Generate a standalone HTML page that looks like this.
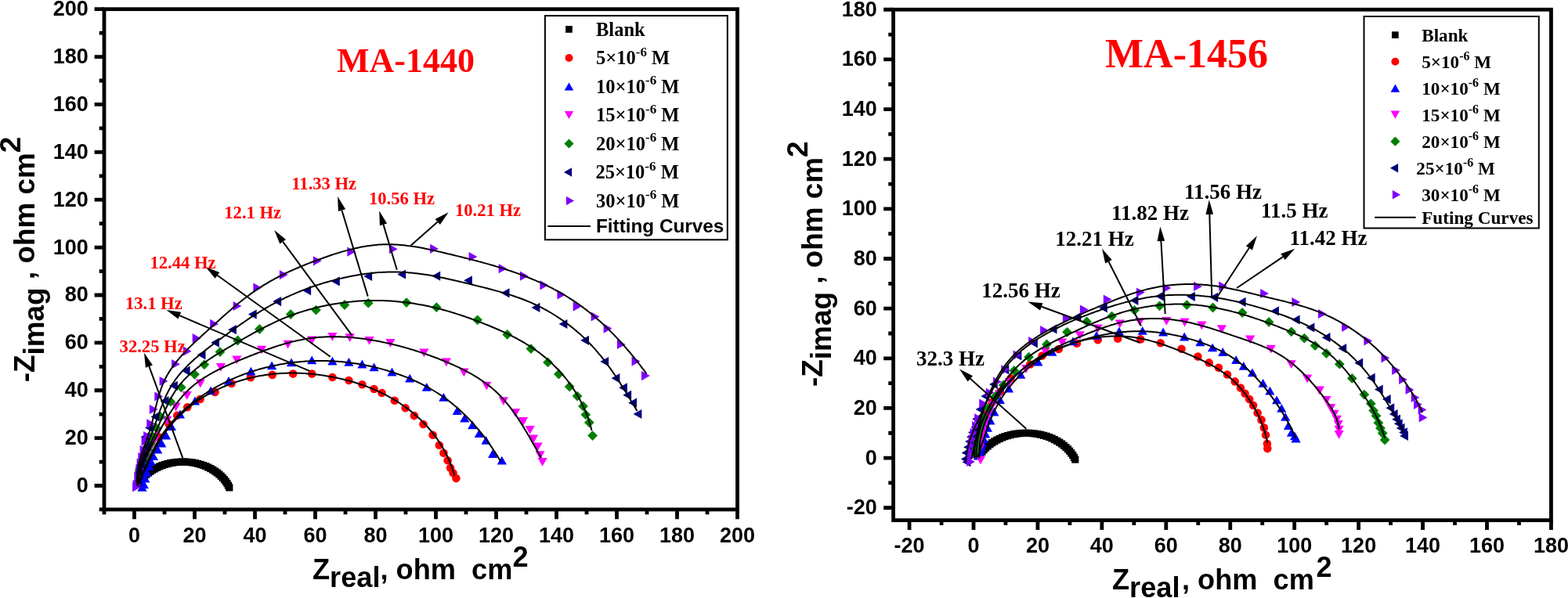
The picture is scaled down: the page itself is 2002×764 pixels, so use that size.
<!DOCTYPE html>
<html><head><meta charset="utf-8"><title>Nyquist plots</title>
<style>html,body{margin:0;padding:0;background:#fff;}svg{display:block;}</style>
</head><body>
<svg width="2002" height="764" viewBox="0 0 2002 764">
<rect width="2002" height="764" fill="#fff"/>
<rect x="133.00" y="11.70" width="808.50" height="639.24" fill="none" stroke="#000" stroke-width="4.8"/>
<path d="M171.50,650.94v12.40 M248.50,650.94v12.40 M325.50,650.94v12.40 M402.50,650.94v12.40 M479.50,650.94v12.40 M556.50,650.94v12.40 M633.50,650.94v12.40 M710.50,650.94v12.40 M787.50,650.94v12.40 M864.50,650.94v12.40 M941.50,650.94v12.40 M133.00,650.94v6.30 M210.00,650.94v6.30 M287.00,650.94v6.30 M364.00,650.94v6.30 M441.00,650.94v6.30 M518.00,650.94v6.30 M595.00,650.94v6.30 M672.00,650.94v6.30 M749.00,650.94v6.30 M826.00,650.94v6.30 M903.00,650.94v6.30 M133.00,620.50h-12.40 M133.00,559.62h-12.40 M133.00,498.74h-12.40 M133.00,437.86h-12.40 M133.00,376.98h-12.40 M133.00,316.10h-12.40 M133.00,255.22h-12.40 M133.00,194.34h-12.40 M133.00,133.46h-12.40 M133.00,72.58h-12.40 M133.00,11.70h-12.40 M133.00,650.94h-6.30 M133.00,590.06h-6.30 M133.00,529.18h-6.30 M133.00,468.30h-6.30 M133.00,407.42h-6.30 M133.00,346.54h-6.30 M133.00,285.66h-6.30 M133.00,224.78h-6.30 M133.00,163.90h-6.30 M133.00,103.02h-6.30 M133.00,42.14h-6.30" stroke="#000" stroke-width="4.8" fill="none"/>
<g font-family="'Liberation Sans', Arial, sans-serif" font-weight="bold" font-size="27" fill="#000">
<text x="171.50" y="693.00" text-anchor="middle">0</text>
<text x="248.50" y="693.00" text-anchor="middle">20</text>
<text x="325.50" y="693.00" text-anchor="middle">40</text>
<text x="402.50" y="693.00" text-anchor="middle">60</text>
<text x="479.50" y="693.00" text-anchor="middle">80</text>
<text x="556.50" y="693.00" text-anchor="middle">100</text>
<text x="633.50" y="693.00" text-anchor="middle">120</text>
<text x="710.50" y="693.00" text-anchor="middle">140</text>
<text x="787.50" y="693.00" text-anchor="middle">160</text>
<text x="864.50" y="693.00" text-anchor="middle">180</text>
<text x="941.50" y="693.00" text-anchor="middle">200</text>
<text x="112.80" y="629.00" text-anchor="end">0</text>
<text x="112.80" y="568.12" text-anchor="end">20</text>
<text x="112.80" y="507.25" text-anchor="end">40</text>
<text x="112.80" y="446.37" text-anchor="end">60</text>
<text x="112.80" y="385.49" text-anchor="end">80</text>
<text x="112.80" y="324.61" text-anchor="end">100</text>
<text x="112.80" y="263.72" text-anchor="end">120</text>
<text x="112.80" y="202.84" text-anchor="end">140</text>
<text x="112.80" y="141.96" text-anchor="end">160</text>
<text x="112.80" y="81.09" text-anchor="end">180</text>
<text x="112.80" y="20.21" text-anchor="end">200</text>
</g>
<rect x="1140.58" y="12.25" width="839.88" height="652.41" fill="none" stroke="#000" stroke-width="4.8"/>
<path d="M1161.06,664.66v12.40 M1243.00,664.66v12.40 M1324.94,664.66v12.40 M1406.88,664.66v12.40 M1488.82,664.66v12.40 M1570.76,664.66v12.40 M1652.70,664.66v12.40 M1734.64,664.66v12.40 M1816.58,664.66v12.40 M1898.52,664.66v12.40 M1980.46,664.66v12.40 M1202.03,664.66v6.30 M1283.97,664.66v6.30 M1365.91,664.66v6.30 M1447.85,664.66v6.30 M1529.79,664.66v6.30 M1611.73,664.66v6.30 M1693.67,664.66v6.30 M1775.61,664.66v6.30 M1857.55,664.66v6.30 M1939.49,664.66v6.30 M1140.58,648.75h-12.40 M1140.58,585.10h-12.40 M1140.58,521.45h-12.40 M1140.58,457.80h-12.40 M1140.58,394.15h-12.40 M1140.58,330.50h-12.40 M1140.58,266.85h-12.40 M1140.58,203.20h-12.40 M1140.58,139.55h-12.40 M1140.58,75.90h-12.40 M1140.58,12.25h-12.40 M1140.58,616.93h-6.30 M1140.58,553.27h-6.30 M1140.58,489.62h-6.30 M1140.58,425.98h-6.30 M1140.58,362.33h-6.30 M1140.58,298.68h-6.30 M1140.58,235.03h-6.30 M1140.58,171.38h-6.30 M1140.58,107.73h-6.30 M1140.58,44.08h-6.30" stroke="#000" stroke-width="4.8" fill="none"/>
<g font-family="'Liberation Sans', Arial, sans-serif" font-weight="bold" font-size="27" fill="#000">
<text x="1161.06" y="705.80" text-anchor="middle">-20</text>
<text x="1243.00" y="705.80" text-anchor="middle">0</text>
<text x="1324.94" y="705.80" text-anchor="middle">20</text>
<text x="1406.88" y="705.80" text-anchor="middle">40</text>
<text x="1488.82" y="705.80" text-anchor="middle">60</text>
<text x="1570.76" y="705.80" text-anchor="middle">80</text>
<text x="1652.70" y="705.80" text-anchor="middle">100</text>
<text x="1734.64" y="705.80" text-anchor="middle">120</text>
<text x="1816.58" y="705.80" text-anchor="middle">140</text>
<text x="1898.52" y="705.80" text-anchor="middle">160</text>
<text x="1980.46" y="705.80" text-anchor="middle">180</text>
<text x="1119.80" y="657.25" text-anchor="end">-20</text>
<text x="1119.80" y="593.61" text-anchor="end">0</text>
<text x="1119.80" y="529.96" text-anchor="end">20</text>
<text x="1119.80" y="466.31" text-anchor="end">40</text>
<text x="1119.80" y="402.65" text-anchor="end">60</text>
<text x="1119.80" y="339.00" text-anchor="end">80</text>
<text x="1119.80" y="275.36" text-anchor="end">100</text>
<text x="1119.80" y="211.70" text-anchor="end">120</text>
<text x="1119.80" y="148.06" text-anchor="end">140</text>
<text x="1119.80" y="84.40" text-anchor="end">160</text>
<text x="1119.80" y="20.76" text-anchor="end">180</text>
</g>
<text x="399" y="740.4" font-family="'Liberation Sans', Arial, sans-serif" font-weight="bold" font-size="36.2" fill="#000" xml:space="preserve">Z<tspan dy="10" >real</tspan><tspan dy="-10" dx="0">, ohm  cm</tspan><tspan dy="-16" dx="0">2</tspan></text>
<text x="1420" y="753.1" font-family="'Liberation Sans', Arial, sans-serif" font-weight="bold" font-size="36.2" fill="#000" xml:space="preserve">Z<tspan dy="10" >real</tspan><tspan dy="-10" dx="2.5">, ohm  cm</tspan><tspan dy="-16" dx="2.5">2</tspan></text>
<text transform="translate(44,488.3) rotate(-90)" font-family="'Liberation Sans', Arial, sans-serif" font-weight="bold" font-size="36.9" fill="#000" xml:space="preserve">-Z<tspan dy="11.5">imag</tspan><tspan dy="-11.5"> , ohm cm</tspan><tspan dy="-18.3">2</tspan></text>
<text transform="translate(1049.7,494.0) rotate(-90)" font-family="'Liberation Sans', Arial, sans-serif" font-weight="bold" font-size="36.9" fill="#000" xml:space="preserve">-Z<tspan dy="11.5">imag</tspan><tspan dy="-11.5"> , ohm cm</tspan><tspan dy="-18.3">2</tspan></text>
<text x="430" y="92" font-family="'Liberation Serif', 'Times New Roman', serif" font-weight="bold" font-size="44" fill="#ff0000">MA-1440</text>
<text x="1411" y="86" font-family="'Liberation Serif', 'Times New Roman', serif" font-weight="bold" font-size="52" fill="#ff0000">MA-1456</text>
<rect x="172.2" y="613.5" width="9.2" height="9.2" fill="#000"/>
<rect x="173.8" y="610.9" width="9.2" height="9.2" fill="#000"/>
<rect x="175.7" y="608.5" width="9.2" height="9.2" fill="#000"/>
<rect x="177.7" y="606.2" width="9.2" height="9.2" fill="#000"/>
<rect x="179.9" y="603.9" width="9.2" height="9.2" fill="#000"/>
<rect x="182.2" y="601.7" width="9.2" height="9.2" fill="#000"/>
<rect x="184.7" y="599.7" width="9.2" height="9.2" fill="#000"/>
<rect x="187.4" y="597.8" width="9.2" height="9.2" fill="#000"/>
<rect x="190.2" y="595.9" width="9.2" height="9.2" fill="#000"/>
<rect x="193.1" y="594.3" width="9.2" height="9.2" fill="#000"/>
<rect x="196.1" y="592.7" width="9.2" height="9.2" fill="#000"/>
<rect x="199.2" y="591.3" width="9.2" height="9.2" fill="#000"/>
<rect x="202.5" y="590.0" width="9.2" height="9.2" fill="#000"/>
<rect x="205.8" y="588.9" width="9.2" height="9.2" fill="#000"/>
<rect x="209.2" y="588.0" width="9.2" height="9.2" fill="#000"/>
<rect x="212.6" y="587.1" width="9.2" height="9.2" fill="#000"/>
<rect x="216.1" y="586.5" width="9.2" height="9.2" fill="#000"/>
<rect x="219.7" y="586.0" width="9.2" height="9.2" fill="#000"/>
<rect x="223.2" y="585.7" width="9.2" height="9.2" fill="#000"/>
<rect x="226.8" y="585.5" width="9.2" height="9.2" fill="#000"/>
<rect x="230.4" y="585.5" width="9.2" height="9.2" fill="#000"/>
<rect x="234.0" y="585.6" width="9.2" height="9.2" fill="#000"/>
<rect x="237.6" y="585.9" width="9.2" height="9.2" fill="#000"/>
<rect x="241.1" y="586.4" width="9.2" height="9.2" fill="#000"/>
<rect x="244.7" y="587.0" width="9.2" height="9.2" fill="#000"/>
<rect x="248.1" y="587.8" width="9.2" height="9.2" fill="#000"/>
<rect x="251.5" y="588.8" width="9.2" height="9.2" fill="#000"/>
<rect x="254.8" y="589.9" width="9.2" height="9.2" fill="#000"/>
<rect x="258.1" y="591.1" width="9.2" height="9.2" fill="#000"/>
<rect x="261.2" y="592.5" width="9.2" height="9.2" fill="#000"/>
<rect x="264.3" y="594.0" width="9.2" height="9.2" fill="#000"/>
<rect x="267.2" y="595.7" width="9.2" height="9.2" fill="#000"/>
<rect x="270.0" y="597.5" width="9.2" height="9.2" fill="#000"/>
<rect x="272.6" y="599.4" width="9.2" height="9.2" fill="#000"/>
<rect x="275.2" y="601.4" width="9.2" height="9.2" fill="#000"/>
<rect x="277.5" y="603.6" width="9.2" height="9.2" fill="#000"/>
<rect x="279.8" y="605.8" width="9.2" height="9.2" fill="#000"/>
<rect x="281.8" y="608.2" width="9.2" height="9.2" fill="#000"/>
<rect x="283.7" y="610.6" width="9.2" height="9.2" fill="#000"/>
<rect x="285.4" y="613.1" width="9.2" height="9.2" fill="#000"/>
<rect x="286.9" y="615.7" width="9.2" height="9.2" fill="#000"/>
<rect x="288.2" y="618.3" width="9.2" height="9.2" fill="#000"/>
<circle cx="202.7" cy="558.3" r="5.3" fill="#ff0000"/>
<circle cx="215.6" cy="541.8" r="5.3" fill="#ff0000"/>
<circle cx="226.2" cy="530.7" r="5.3" fill="#ff0000"/>
<circle cx="239.3" cy="520.2" r="5.3" fill="#ff0000"/>
<circle cx="255.5" cy="510.0" r="5.3" fill="#ff0000"/>
<circle cx="274.6" cy="501.0" r="5.3" fill="#ff0000"/>
<circle cx="295.6" cy="490.0" r="5.3" fill="#ff0000"/>
<circle cx="320.0" cy="482.3" r="5.3" fill="#ff0000"/>
<circle cx="347.7" cy="478.9" r="5.3" fill="#ff0000"/>
<circle cx="374.1" cy="477.6" r="5.3" fill="#ff0000"/>
<circle cx="398.2" cy="477.6" r="5.3" fill="#ff0000"/>
<circle cx="424.4" cy="482.0" r="5.3" fill="#ff0000"/>
<circle cx="445.4" cy="486.0" r="5.3" fill="#ff0000"/>
<circle cx="462.4" cy="491.2" r="5.3" fill="#ff0000"/>
<circle cx="477.6" cy="497.0" r="5.3" fill="#ff0000"/>
<circle cx="487.5" cy="502.0" r="5.3" fill="#ff0000"/>
<circle cx="503.8" cy="511.7" r="5.3" fill="#ff0000"/>
<circle cx="517.6" cy="521.2" r="5.3" fill="#ff0000"/>
<circle cx="528.8" cy="531.1" r="5.3" fill="#ff0000"/>
<circle cx="540.5" cy="542.0" r="5.3" fill="#ff0000"/>
<circle cx="552.6" cy="555.8" r="5.3" fill="#ff0000"/>
<circle cx="560.8" cy="568.7" r="5.3" fill="#ff0000"/>
<circle cx="566.4" cy="578.7" r="5.3" fill="#ff0000"/>
<circle cx="571.6" cy="588.2" r="5.3" fill="#ff0000"/>
<circle cx="575.1" cy="597.7" r="5.3" fill="#ff0000"/>
<circle cx="578.5" cy="604.2" r="5.3" fill="#ff0000"/>
<circle cx="582.4" cy="611.1" r="5.3" fill="#ff0000"/>
<path d="M181.5,616.9L187.6,627.7L175.4,627.7Z" fill="#0000ff"/>
<path d="M183.8,613.4L189.9,624.2L177.7,624.2Z" fill="#0000ff"/>
<path d="M185.3,605.6L191.4,616.4L179.2,616.4Z" fill="#0000ff"/>
<path d="M187.4,598.1L193.5,608.9L181.3,608.9Z" fill="#0000ff"/>
<path d="M190.2,590.1L196.3,600.9L184.1,600.9Z" fill="#0000ff"/>
<path d="M192.8,584.1L198.9,594.9L186.7,594.9Z" fill="#0000ff"/>
<path d="M195.9,577.3L202.0,588.1L189.8,588.1Z" fill="#0000ff"/>
<path d="M201.2,568.6L207.3,579.4L195.1,579.4Z" fill="#0000ff"/>
<path d="M206.2,560.6L212.3,571.4L200.1,571.4Z" fill="#0000ff"/>
<path d="M212.0,550.6L218.1,561.4L205.9,561.4Z" fill="#0000ff"/>
<path d="M218.9,539.2L225.0,550.0L212.8,550.0Z" fill="#0000ff"/>
<path d="M229.9,523.6L236.0,534.4L223.8,534.4Z" fill="#0000ff"/>
<path d="M249.0,506.6L255.1,517.4L242.9,517.4Z" fill="#0000ff"/>
<path d="M269.1,493.4L275.2,504.2L263.0,504.2Z" fill="#0000ff"/>
<path d="M292.0,480.9L298.1,491.7L285.9,491.7Z" fill="#0000ff"/>
<path d="M320.4,468.8L326.5,479.6L314.3,479.6Z" fill="#0000ff"/>
<path d="M347.1,461.4L353.2,472.2L341.0,472.2Z" fill="#0000ff"/>
<path d="M372.0,457.5L378.1,468.3L365.9,468.3Z" fill="#0000ff"/>
<path d="M398.2,454.4L404.3,465.2L392.1,465.2Z" fill="#0000ff"/>
<path d="M424.4,455.7L430.5,466.5L418.3,466.5Z" fill="#0000ff"/>
<path d="M445.4,457.0L451.5,467.8L439.3,467.8Z" fill="#0000ff"/>
<path d="M462.4,459.6L468.5,470.4L456.3,470.4Z" fill="#0000ff"/>
<path d="M477.6,463.5L483.7,474.3L471.5,474.3Z" fill="#0000ff"/>
<path d="M500.5,469.6L506.6,480.4L494.4,480.4Z" fill="#0000ff"/>
<path d="M523.2,477.8L529.3,488.6L517.1,488.6Z" fill="#0000ff"/>
<path d="M544.8,489.0L550.9,499.8L538.7,499.8Z" fill="#0000ff"/>
<path d="M566.4,502.0L572.5,512.8L560.3,512.8Z" fill="#0000ff"/>
<path d="M583.7,519.3L589.8,530.1L577.6,530.1Z" fill="#0000ff"/>
<path d="M593.2,528.8L599.3,539.6L587.1,539.6Z" fill="#0000ff"/>
<path d="M603.2,537.4L609.3,548.2L597.1,548.2Z" fill="#0000ff"/>
<path d="M611.8,548.2L617.9,559.0L605.7,559.0Z" fill="#0000ff"/>
<path d="M620.5,556.9L626.6,567.7L614.4,567.7Z" fill="#0000ff"/>
<path d="M629.1,574.1L635.2,584.9L623.0,584.9Z" fill="#0000ff"/>
<path d="M640.8,582.8L646.9,593.6L634.7,593.6Z" fill="#0000ff"/>
<path d="M182.1,599.8L188.2,589.0L176.0,589.0Z" fill="#ff00ff"/>
<path d="M182.8,597.9L188.9,587.1L176.7,587.1Z" fill="#ff00ff"/>
<path d="M183.7,595.6L189.8,584.8L177.6,584.8Z" fill="#ff00ff"/>
<path d="M184.9,592.8L191.0,582.0L178.8,582.0Z" fill="#ff00ff"/>
<path d="M186.3,589.4L192.4,578.6L180.2,578.6Z" fill="#ff00ff"/>
<path d="M188.2,585.2L194.3,574.4L182.1,574.4Z" fill="#ff00ff"/>
<path d="M190.6,580.3L196.7,569.5L184.5,569.5Z" fill="#ff00ff"/>
<path d="M193.7,574.3L199.8,563.5L187.6,563.5Z" fill="#ff00ff"/>
<path d="M197.6,567.1L203.7,556.3L191.5,556.3Z" fill="#ff00ff"/>
<path d="M201.5,556.7L207.6,545.9L195.4,545.9Z" fill="#ff00ff"/>
<path d="M213.3,542.5L219.4,531.7L207.2,531.7Z" fill="#ff00ff"/>
<path d="M224.6,525.4L230.7,514.6L218.5,514.6Z" fill="#ff00ff"/>
<path d="M238.7,510.8L244.8,500.0L232.6,500.0Z" fill="#ff00ff"/>
<path d="M255.8,495.4L261.9,484.6L249.7,484.6Z" fill="#ff00ff"/>
<path d="M281.9,474.8L288.0,464.0L275.8,464.0Z" fill="#ff00ff"/>
<path d="M302.3,465.2L308.4,454.4L296.2,454.4Z" fill="#ff00ff"/>
<path d="M334.0,452.6L340.1,441.8L327.9,441.8Z" fill="#ff00ff"/>
<path d="M367.6,445.5L373.7,434.7L361.5,434.7Z" fill="#ff00ff"/>
<path d="M398.2,440.3L404.3,429.5L392.1,429.5Z" fill="#ff00ff"/>
<path d="M424.4,435.8L430.5,425.0L418.3,425.0Z" fill="#ff00ff"/>
<path d="M446.7,437.1L452.8,426.3L440.6,426.3Z" fill="#ff00ff"/>
<path d="M471.6,440.8L477.7,430.0L465.5,430.0Z" fill="#ff00ff"/>
<path d="M498.4,443.9L504.5,433.1L492.3,433.1Z" fill="#ff00ff"/>
<path d="M541.4,456.2L547.5,445.4L535.3,445.4Z" fill="#ff00ff"/>
<path d="M569.9,468.3L576.0,457.5L563.8,457.5Z" fill="#ff00ff"/>
<path d="M592.4,481.2L598.5,470.4L586.3,470.4Z" fill="#ff00ff"/>
<path d="M621.3,498.5L627.4,487.7L615.2,487.7Z" fill="#ff00ff"/>
<path d="M642.9,518.0L649.0,507.2L636.8,507.2Z" fill="#ff00ff"/>
<path d="M658.0,533.1L664.1,522.3L651.9,522.3Z" fill="#ff00ff"/>
<path d="M668.0,543.9L674.1,533.1L661.9,533.1Z" fill="#ff00ff"/>
<path d="M676.6,554.7L682.7,543.9L670.5,543.9Z" fill="#ff00ff"/>
<path d="M681.0,566.4L687.1,555.6L674.9,555.6Z" fill="#ff00ff"/>
<path d="M686.6,576.3L692.7,565.5L680.5,565.5Z" fill="#ff00ff"/>
<path d="M689.6,587.1L695.7,576.3L683.5,576.3Z" fill="#ff00ff"/>
<path d="M692.6,595.7L698.7,584.9L686.5,584.9Z" fill="#ff00ff"/>
<path d="M178.6,594.2L185.0,600.6L178.6,607.0L172.2,600.6Z" fill="#008000"/>
<path d="M179.1,592.2L185.5,598.6L179.1,605.0L172.7,598.6Z" fill="#008000"/>
<path d="M179.9,589.8L186.3,596.2L179.9,602.6L173.5,596.2Z" fill="#008000"/>
<path d="M180.8,586.9L187.2,593.3L180.8,599.7L174.4,593.3Z" fill="#008000"/>
<path d="M182.1,583.5L188.5,589.9L182.1,596.3L175.7,589.9Z" fill="#008000"/>
<path d="M183.7,579.2L190.1,585.6L183.7,592.0L177.3,585.6Z" fill="#008000"/>
<path d="M185.8,574.2L192.2,580.6L185.8,587.0L179.4,580.6Z" fill="#008000"/>
<path d="M188.6,568.0L195.0,574.4L188.6,580.8L182.2,574.4Z" fill="#008000"/>
<path d="M192.1,560.6L198.5,567.0L192.1,573.4L185.7,567.0Z" fill="#008000"/>
<path d="M194.4,550.8L200.8,557.2L194.4,563.6L188.0,557.2Z" fill="#008000"/>
<path d="M199.2,540.2L205.6,546.6L199.2,553.0L192.8,546.6Z" fill="#008000"/>
<path d="M205.0,526.0L211.4,532.4L205.0,538.8L198.6,532.4Z" fill="#008000"/>
<path d="M217.8,506.8L224.2,513.2L217.8,519.6L211.4,513.2Z" fill="#008000"/>
<path d="M231.3,488.5L237.7,494.9L231.3,501.3L224.9,494.9Z" fill="#008000"/>
<path d="M248.5,471.9L254.9,478.3L248.5,484.7L242.1,478.3Z" fill="#008000"/>
<path d="M260.8,459.4L267.2,465.8L260.8,472.2L254.4,465.8Z" fill="#008000"/>
<path d="M281.0,443.2L287.4,449.6L281.0,456.0L274.6,449.6Z" fill="#008000"/>
<path d="M303.5,428.6L309.9,435.0L303.5,441.4L297.1,435.0Z" fill="#008000"/>
<path d="M331.4,414.1L337.8,420.5L331.4,426.9L325.0,420.5Z" fill="#008000"/>
<path d="M371.2,395.2L377.6,401.6L371.2,408.0L364.8,401.6Z" fill="#008000"/>
<path d="M403.5,389.7L409.9,396.1L403.5,402.5L397.1,396.1Z" fill="#008000"/>
<path d="M440.0,383.1L446.4,389.5L440.0,395.9L433.6,389.5Z" fill="#008000"/>
<path d="M470.3,380.8L476.7,387.2L470.3,393.6L463.9,387.2Z" fill="#008000"/>
<path d="M519.0,380.2L525.4,386.6L519.0,393.0L512.6,386.6Z" fill="#008000"/>
<path d="M557.3,386.3L563.7,392.7L557.3,399.1L550.9,392.7Z" fill="#008000"/>
<path d="M609.6,402.4L616.0,408.8L609.6,415.2L603.2,408.8Z" fill="#008000"/>
<path d="M647.7,421.0L654.1,427.4L647.7,433.8L641.3,427.4Z" fill="#008000"/>
<path d="M677.9,439.2L684.3,445.6L677.9,452.0L671.5,445.6Z" fill="#008000"/>
<path d="M699.5,456.5L705.9,462.9L699.5,469.3L693.1,462.9Z" fill="#008000"/>
<path d="M713.4,471.6L719.8,478.0L713.4,484.4L707.0,478.0Z" fill="#008000"/>
<path d="M727.2,487.6L733.6,494.0L727.2,500.4L720.8,494.0Z" fill="#008000"/>
<path d="M737.1,499.7L743.5,506.1L737.1,512.5L730.7,506.1Z" fill="#008000"/>
<path d="M744.5,512.6L750.9,519.0L744.5,525.4L738.1,519.0Z" fill="#008000"/>
<path d="M747.9,523.4L754.3,529.8L747.9,536.2L741.5,529.8Z" fill="#008000"/>
<path d="M752.3,533.4L758.7,539.8L752.3,546.2L745.9,539.8Z" fill="#008000"/>
<path d="M756.6,550.2L763.0,556.6L756.6,563.0L750.2,556.6Z" fill="#008000"/>
<path d="M171.0,604.9L181.8,598.8L181.8,611.0Z" fill="#000080"/>
<path d="M171.4,602.9L182.2,596.8L182.2,609.0Z" fill="#000080"/>
<path d="M171.8,600.5L182.6,594.4L182.6,606.6Z" fill="#000080"/>
<path d="M172.5,597.5L183.3,591.4L183.3,603.6Z" fill="#000080"/>
<path d="M173.4,593.9L184.2,587.8L184.2,600.0Z" fill="#000080"/>
<path d="M174.7,589.6L185.5,583.5L185.5,595.7Z" fill="#000080"/>
<path d="M176.4,584.3L187.2,578.2L187.2,590.4Z" fill="#000080"/>
<path d="M178.7,578.0L189.5,571.9L189.5,584.1Z" fill="#000080"/>
<path d="M181.7,570.4L192.5,564.3L192.5,576.5Z" fill="#000080"/>
<path d="M179.6,558.3L190.4,552.2L190.4,564.4Z" fill="#000080"/>
<path d="M184.9,546.6L195.7,540.5L195.7,552.7Z" fill="#000080"/>
<path d="M192.6,532.4L203.4,526.3L203.4,538.5Z" fill="#000080"/>
<path d="M204.6,512.2L215.4,506.1L215.4,518.3Z" fill="#000080"/>
<path d="M216.1,492.8L226.9,486.7L226.9,498.9Z" fill="#000080"/>
<path d="M231.8,473.8L242.6,467.7L242.6,479.9Z" fill="#000080"/>
<path d="M251.7,453.3L262.5,447.2L262.5,459.4Z" fill="#000080"/>
<path d="M269.2,437.7L280.0,431.6L280.0,443.8Z" fill="#000080"/>
<path d="M291.1,421.2L301.9,415.1L301.9,427.3Z" fill="#000080"/>
<path d="M316.9,401.6L327.7,395.5L327.7,407.7Z" fill="#000080"/>
<path d="M348.3,385.1L359.1,379.0L359.1,391.2Z" fill="#000080"/>
<path d="M386.3,371.2L397.1,365.1L397.1,377.3Z" fill="#000080"/>
<path d="M423.0,359.4L433.8,353.3L433.8,365.5Z" fill="#000080"/>
<path d="M464.3,353.0L475.1,346.9L475.1,359.1Z" fill="#000080"/>
<path d="M507.3,350.5L518.1,344.4L518.1,356.6Z" fill="#000080"/>
<path d="M551.4,352.7L562.2,346.6L562.2,358.8Z" fill="#000080"/>
<path d="M592.1,358.3L602.9,352.2L602.9,364.4Z" fill="#000080"/>
<path d="M639.7,374.3L650.5,368.2L650.5,380.4Z" fill="#000080"/>
<path d="M678.6,392.9L689.4,386.8L689.4,399.0Z" fill="#000080"/>
<path d="M713.6,414.0L724.4,407.9L724.4,420.1Z" fill="#000080"/>
<path d="M741.2,434.8L752.0,428.7L752.0,440.9Z" fill="#000080"/>
<path d="M766.3,462.0L777.1,455.9L777.1,468.1Z" fill="#000080"/>
<path d="M780.6,483.2L791.4,477.1L791.4,489.3Z" fill="#000080"/>
<path d="M790.1,495.3L800.9,489.2L800.9,501.4Z" fill="#000080"/>
<path d="M795.3,504.8L806.1,498.7L806.1,510.9Z" fill="#000080"/>
<path d="M802.2,514.7L813.0,508.6L813.0,520.8Z" fill="#000080"/>
<path d="M808.6,529.0L819.4,522.9L819.4,535.1Z" fill="#000080"/>
<path d="M179.9,622.3L169.1,616.2L169.1,628.4Z" fill="#8000ff"/>
<path d="M180.4,619.0L169.6,612.9L169.6,625.1Z" fill="#8000ff"/>
<path d="M182.1,609.0L171.3,602.9L171.3,615.1Z" fill="#8000ff"/>
<path d="M184.3,599.0L173.5,592.9L173.5,605.1Z" fill="#8000ff"/>
<path d="M185.4,591.5L174.6,585.4L174.6,597.6Z" fill="#8000ff"/>
<path d="M187.1,584.0L176.3,577.9L176.3,590.1Z" fill="#8000ff"/>
<path d="M189.4,575.0L178.6,568.9L178.6,581.1Z" fill="#8000ff"/>
<path d="M191.4,564.0L180.6,557.9L180.6,570.1Z" fill="#8000ff"/>
<path d="M194.0,557.2L183.2,551.1L183.2,563.3Z" fill="#8000ff"/>
<path d="M198.1,541.3L187.3,535.2L187.3,547.4Z" fill="#8000ff"/>
<path d="M201.6,523.0L190.8,516.9L190.8,529.1Z" fill="#8000ff"/>
<path d="M208.1,506.5L197.3,500.4L197.3,512.6Z" fill="#8000ff"/>
<path d="M214.4,487.0L203.6,480.9L203.6,493.1Z" fill="#8000ff"/>
<path d="M229.9,465.2L219.1,459.1L219.1,471.3Z" fill="#8000ff"/>
<path d="M244.6,448.7L233.8,442.6L233.8,454.8Z" fill="#8000ff"/>
<path d="M256.5,432.2L245.7,426.1L245.7,438.3Z" fill="#8000ff"/>
<path d="M279.0,413.9L268.2,407.8L268.2,420.0Z" fill="#8000ff"/>
<path d="M308.4,391.0L297.6,384.9L297.6,397.1Z" fill="#8000ff"/>
<path d="M334.2,367.6L323.4,361.5L323.4,373.7Z" fill="#8000ff"/>
<path d="M367.7,351.1L356.9,345.0L356.9,357.2Z" fill="#8000ff"/>
<path d="M410.7,333.3L399.9,327.2L399.9,339.4Z" fill="#8000ff"/>
<path d="M454.2,321.6L443.4,315.5L443.4,327.7Z" fill="#8000ff"/>
<path d="M507.7,318.2L496.9,312.1L496.9,324.3Z" fill="#8000ff"/>
<path d="M559.9,317.8L549.1,311.7L549.1,323.9Z" fill="#8000ff"/>
<path d="M609.4,328.0L598.6,321.9L598.6,334.1Z" fill="#8000ff"/>
<path d="M647.4,343.2L636.6,337.1L636.6,349.3Z" fill="#8000ff"/>
<path d="M674.7,352.7L663.9,346.6L663.9,358.8Z" fill="#8000ff"/>
<path d="M700.2,364.3L689.4,358.2L689.4,370.4Z" fill="#8000ff"/>
<path d="M722.2,376.4L711.4,370.3L711.4,382.5Z" fill="#8000ff"/>
<path d="M742.5,391.6L731.7,385.5L731.7,397.7Z" fill="#8000ff"/>
<path d="M765.4,404.5L754.6,398.4L754.6,410.6Z" fill="#8000ff"/>
<path d="M781.4,419.6L770.6,413.5L770.6,425.7Z" fill="#8000ff"/>
<path d="M798.7,440.0L787.9,433.9L787.9,446.1Z" fill="#8000ff"/>
<path d="M817.3,461.6L806.5,455.5L806.5,467.7Z" fill="#8000ff"/>
<path d="M829.8,480.1L819.0,474.0L819.0,486.2Z" fill="#8000ff"/>
<g fill="none" stroke="#000" stroke-width="2" stroke-linejoin="round">
<path d="M175.5,620.3 176.3,618.7 177.1,617.1 177.9,615.5 178.6,613.9 179.4,612.3 180.2,610.6 180.9,609.0 181.7,607.4 182.4,605.8 183.2,604.2 183.9,602.6 184.7,601.0 185.4,599.4 186.2,597.8 186.9,596.2 187.7,594.6 188.4,593.0 189.1,591.4 189.9,589.8 190.7,588.3 191.4,586.7 192.2,585.1 192.9,583.6 193.7,582.0 194.5,580.4 195.3,578.9 196.1,577.3 196.9,575.8 197.7,574.3 198.5,572.8 199.3,571.2 200.1,569.7 201.0,568.2 201.8,566.8 202.7,565.3 203.6,563.8 204.5,562.3 205.4,560.9 206.3,559.4 207.2,558.0 208.2,556.6 209.1,555.2 210.1,553.8 211.1,552.4 212.1,551.0 213.1,549.6 214.2,548.3 215.2,546.9 216.3,545.6 217.3,544.3 218.4,542.9 219.5,541.6 220.6,540.3 221.8,539.1 222.9,537.8 224.1,536.5 225.2,535.3 226.4,534.1 227.6,532.8 228.8,531.6 230.1,530.4 231.3,529.2 232.5,528.0 233.8,526.9 235.1,525.7 236.4,524.6 237.7,523.5 239.0,522.3 240.3,521.2 241.6,520.1 243.0,519.1 244.3,518.0 245.7,517.0 247.1,515.9 248.5,514.9 249.9,513.9 251.3,512.9 252.8,511.9 254.2,510.9 255.7,509.9 257.2,509.0 258.6,508.0 260.1,507.1 261.6,506.2 263.1,505.3 264.7,504.4 266.2,503.6 267.8,502.7 269.3,501.9 270.9,501.0 272.4,500.2 274.0,499.4 275.6,498.6 277.2,497.8 278.8,497.1 280.4,496.3 282.1,495.6 283.7,494.9 285.3,494.2 287.0,493.5 288.6,492.8 290.3,492.1 291.9,491.5 293.6,490.8 295.3,490.2 297.0,489.6 298.7,489.0 300.4,488.4 302.1,487.8 303.8,487.3 305.5,486.7 307.2,486.2 308.9,485.7 310.6,485.2 312.3,484.7 314.1,484.2 315.8,483.8 317.5,483.3 319.2,482.9 321.0,482.5 322.7,482.1 324.5,481.7 326.2,481.3 327.9,481.0 329.7,480.6 331.4,480.3 333.2,480.0 334.9,479.7 336.7,479.4 338.4,479.1 340.2,478.9 341.9,478.6 343.7,478.4 345.4,478.2 347.2,478.0 348.9,477.8 350.7,477.6 352.4,477.5 354.1,477.3 355.9,477.2 357.6,477.1 359.4,477.0 361.1,476.9 362.9,476.8 364.6,476.7 366.4,476.7 368.1,476.6 369.9,476.6 371.6,476.6 373.4,476.6 375.1,476.6 376.9,476.6 378.6,476.6 380.4,476.7 382.1,476.7 383.9,476.8 385.6,476.9 387.4,477.0 389.1,477.1 390.9,477.2 392.6,477.4 394.4,477.5 396.1,477.6 397.8,477.8 399.6,478.0 401.3,478.2 403.1,478.4 404.8,478.6 406.6,478.8 408.3,479.0 410.1,479.3 411.8,479.5 413.6,479.8 415.3,480.1 417.0,480.4 418.8,480.6 420.5,481.0 422.3,481.3 424.0,481.6 425.7,481.9 427.5,482.3 429.2,482.6 431.0,483.0 432.7,483.4 434.4,483.8 436.1,484.2 437.9,484.6 439.6,485.0 441.3,485.4 443.0,485.9 444.8,486.3 446.5,486.8 448.2,487.3 449.9,487.8 451.6,488.3 453.3,488.8 455.0,489.3 456.7,489.9 458.4,490.4 460.1,491.0 461.8,491.5 463.4,492.1 465.1,492.7 466.8,493.3 468.4,493.9 470.1,494.6 471.8,495.2 473.4,495.9 475.1,496.5 476.7,497.2 478.3,497.9 480.0,498.6 481.6,499.3 483.2,500.1 484.8,500.8 486.4,501.6 488.0,502.4 489.6,503.1 491.2,503.9 492.7,504.7 494.3,505.6 495.9,506.4 497.4,507.3 499.0,508.1 500.5,509.0 502.0,509.9 503.5,510.8 505.1,511.7 506.6,512.6 508.0,513.6 509.5,514.5 511.0,515.5 512.5,516.5 513.9,517.5 515.4,518.5 516.8,519.5 518.2,520.5 519.7,521.6 521.1,522.7 522.5,523.7 523.9,524.8 525.2,525.9 526.6,527.0 528.0,528.1 529.3,529.3 530.6,530.4 531.9,531.6 533.3,532.8 534.6,533.9 535.8,535.1 537.1,536.3 538.4,537.6 539.6,538.8 540.8,540.1 542.1,541.3 543.3,542.6 544.5,543.9 545.7,545.2 546.8,546.5 548.0,547.8 549.1,549.1 550.2,550.5 551.4,551.8 552.4,553.2 553.5,554.6 554.6,555.9 555.7,557.3 556.7,558.8 557.7,560.2 558.7,561.6 559.7,563.1 560.7,564.5 561.6,566.0 562.6,567.5 563.5,569.0 564.4,570.5 565.3,572.0 566.2,573.5 567.1,575.0 567.9,576.6 568.7,578.1 569.5,579.7 570.3,581.3 571.1,582.9 571.9,584.5 572.6,586.1 573.3,587.7 574.0,589.4 574.7,591.0 575.4,592.7 576.0,594.3 576.6,596.0 577.2,597.7 577.8,599.4 578.4,601.1 578.9,602.8 579.5,604.5 580.0,606.3 580.5,608.0"/>
<path d="M175.5,620.3 176.2,618.5 177.0,616.7 177.7,615.0 178.5,613.2 179.2,611.4 180.0,609.6 180.7,607.8 181.5,606.0 182.2,604.2 183.0,602.4 183.7,600.6 184.5,598.8 185.3,597.0 186.1,595.2 186.8,593.4 187.6,591.6 188.4,589.8 189.2,588.0 190.1,586.2 190.9,584.4 191.7,582.6 192.6,580.9 193.4,579.1 194.3,577.3 195.2,575.6 196.1,573.9 197.0,572.1 197.9,570.4 198.8,568.7 199.8,567.0 200.8,565.3 201.8,563.6 202.8,561.9 203.8,560.3 204.9,558.6 205.9,557.0 207.0,555.4 208.1,553.8 209.2,552.2 210.4,550.6 211.6,549.0 212.7,547.5 213.9,545.9 215.2,544.4 216.4,542.9 217.7,541.4 218.9,539.9 220.2,538.5 221.5,537.0 222.8,535.6 224.2,534.1 225.5,532.7 226.9,531.3 228.3,530.0 229.7,528.6 231.1,527.2 232.5,525.9 234.0,524.6 235.4,523.2 236.9,521.9 238.4,520.7 239.8,519.4 241.3,518.1 242.9,516.9 244.4,515.6 245.9,514.4 247.5,513.2 249.0,512.0 250.6,510.9 252.2,509.7 253.8,508.6 255.4,507.4 257.0,506.3 258.6,505.2 260.2,504.1 261.8,503.0 263.5,502.0 265.1,500.9 266.8,499.9 268.4,498.9 270.1,497.9 271.8,496.9 273.5,495.9 275.2,494.9 276.9,494.0 278.6,493.1 280.3,492.1 282.0,491.2 283.8,490.3 285.5,489.4 287.3,488.6 289.0,487.7 290.8,486.9 292.5,486.1 294.3,485.2 296.1,484.4 297.9,483.7 299.7,482.9 301.5,482.1 303.3,481.4 305.1,480.7 306.9,479.9 308.7,479.2 310.5,478.5 312.4,477.9 314.2,477.2 316.0,476.6 317.9,475.9 319.7,475.3 321.6,474.7 323.4,474.1 325.3,473.5 327.2,472.9 329.0,472.4 330.9,471.8 332.8,471.3 334.7,470.8 336.6,470.3 338.4,469.8 340.3,469.3 342.2,468.9 344.1,468.4 346.0,468.0 347.9,467.6 349.8,467.1 351.8,466.7 353.7,466.4 355.6,466.0 357.5,465.6 359.4,465.3 361.4,465.0 363.3,464.6 365.2,464.3 367.1,464.0 369.1,463.8 371.0,463.5 372.9,463.3 374.9,463.0 376.8,462.8 378.8,462.6 380.7,462.4 382.6,462.2 384.6,462.0 386.5,461.9 388.5,461.7 390.4,461.6 392.4,461.5 394.3,461.4 396.3,461.3 398.2,461.2 400.2,461.1 402.1,461.1 404.1,461.0 406.0,461.0 408.0,461.0 409.9,461.0 411.9,461.0 413.8,461.0 415.8,461.0 417.7,461.1 419.7,461.2 421.6,461.2 423.6,461.3 425.5,461.4 427.5,461.5 429.4,461.7 431.4,461.8 433.3,462.0 435.3,462.1 437.2,462.3 439.2,462.5 441.1,462.7 443.0,462.9 445.0,463.2 446.9,463.4 448.8,463.7 450.8,463.9 452.7,464.2 454.6,464.5 456.6,464.8 458.5,465.1 460.4,465.4 462.3,465.8 464.2,466.1 466.2,466.5 468.1,466.9 470.0,467.3 471.9,467.7 473.8,468.1 475.7,468.5 477.6,469.0 479.5,469.4 481.4,469.9 483.3,470.4 485.2,470.9 487.1,471.4 488.9,471.9 490.8,472.4 492.7,473.0 494.6,473.5 496.4,474.1 498.3,474.7 500.2,475.3 502.0,475.9 503.9,476.5 505.7,477.1 507.6,477.7 509.4,478.4 511.2,479.0 513.1,479.7 514.9,480.4 516.7,481.1 518.5,481.8 520.3,482.5 522.1,483.3 523.9,484.0 525.7,484.8 527.5,485.6 529.3,486.4 531.1,487.2 532.8,488.0 534.6,488.8 536.4,489.7 538.1,490.6 539.8,491.4 541.6,492.3 543.3,493.2 545.0,494.2 546.7,495.1 548.4,496.0 550.1,497.0 551.8,498.0 553.5,499.0 555.1,500.0 556.8,501.0 558.5,502.0 560.1,503.1 561.7,504.2 563.4,505.2 565.0,506.3 566.6,507.5 568.2,508.6 569.7,509.7 571.3,510.9 572.9,512.1 574.4,513.3 576.0,514.5 577.5,515.7 579.0,517.0 580.5,518.2 582.0,519.5 583.5,520.8 585.0,522.1 586.5,523.4 587.9,524.7 589.3,526.1 590.8,527.4 592.2,528.8 593.6,530.2 595.0,531.5 596.4,532.9 597.8,534.4 599.1,535.8 600.5,537.2 601.8,538.6 603.1,540.1 604.4,541.5 605.7,543.0 607.0,544.5 608.3,545.9 609.6,547.4 610.8,548.9 612.0,550.4 613.3,551.9 614.5,553.4 615.7,554.9 616.9,556.4 618.0,557.9 619.2,559.5 620.3,561.0 621.5,562.5 622.6,564.0 623.7,565.6 624.8,567.1 625.9,568.6 626.9,570.2 628.0,571.7 629.0,573.2 630.0,574.8 631.1,576.3 632.1,577.8 633.0,579.4 634.0,580.9 635.0,582.4 635.9,584.0 636.8,585.5 637.7,587.0 638.6,588.5 639.5,590.0"/>
<path d="M175.5,620.3 175.8,618.0 176.2,615.8 176.6,613.6 177.1,611.4 177.5,609.2 178.1,607.0 178.7,604.9 179.3,602.7 179.9,600.6 180.6,598.5 181.3,596.5 182.0,594.4 182.8,592.4 183.6,590.3 184.5,588.3 185.3,586.3 186.2,584.3 187.1,582.3 188.0,580.3 188.9,578.3 189.9,576.4 190.9,574.4 191.9,572.4 192.9,570.5 193.9,568.5 194.9,566.6 196.0,564.6 197.0,562.7 198.1,560.7 199.2,558.8 200.2,556.8 201.3,554.9 202.4,552.9 203.5,551.0 204.6,549.0 205.6,547.0 206.7,545.1 207.8,543.1 209.0,541.2 210.1,539.2 211.2,537.3 212.4,535.4 213.5,533.4 214.7,531.5 215.9,529.6 217.0,527.7 218.3,525.9 219.5,524.0 220.7,522.2 222.0,520.3 223.2,518.5 224.5,516.7 225.9,514.9 227.2,513.2 228.5,511.5 229.9,509.7 231.3,508.1 232.7,506.4 234.2,504.8 235.7,503.1 237.2,501.6 238.7,500.0 240.3,498.5 241.8,497.0 243.4,495.5 245.1,494.1 246.7,492.7 248.4,491.3 250.2,490.0 251.9,488.7 253.7,487.4 255.4,486.1 257.2,484.9 259.1,483.6 260.9,482.4 262.8,481.3 264.7,480.1 266.6,479.0 268.5,477.9 270.4,476.8 272.4,475.7 274.4,474.6 276.4,473.6 278.3,472.6 280.4,471.6 282.4,470.6 284.4,469.6 286.5,468.6 288.5,467.7 290.6,466.8 292.7,465.8 294.7,464.9 296.8,464.0 298.9,463.1 301.0,462.2 303.1,461.3 305.2,460.5 307.3,459.6 309.5,458.7 311.6,457.9 313.7,457.0 315.8,456.2 317.9,455.3 320.0,454.5 322.2,453.7 324.3,452.8 326.4,452.0 328.5,451.2 330.6,450.4 332.8,449.6 334.9,448.8 337.0,448.0 339.1,447.2 341.2,446.5 343.4,445.7 345.5,445.0 347.6,444.2 349.8,443.5 351.9,442.8 354.0,442.1 356.2,441.4 358.3,440.8 360.5,440.1 362.6,439.5 364.8,438.9 366.9,438.3 369.1,437.7 371.2,437.1 373.4,436.6 375.5,436.1 377.7,435.6 379.9,435.1 382.0,434.6 384.2,434.2 386.4,433.7 388.6,433.3 390.8,433.0 392.9,432.6 395.1,432.3 397.3,432.0 399.5,431.7 401.7,431.4 403.9,431.2 406.1,431.0 408.3,430.8 410.6,430.7 412.8,430.5 415.0,430.4 417.2,430.3 419.4,430.2 421.7,430.2 423.9,430.2 426.1,430.1 428.3,430.2 430.6,430.2 432.8,430.2 435.0,430.3 437.3,430.4 439.5,430.5 441.7,430.6 444.0,430.8 446.2,430.9 448.4,431.1 450.6,431.3 452.9,431.5 455.1,431.8 457.3,432.0 459.5,432.3 461.8,432.5 464.0,432.8 466.2,433.1 468.4,433.5 470.6,433.8 472.8,434.2 475.0,434.5 477.2,434.9 479.4,435.3 481.6,435.7 483.8,436.1 486.0,436.5 488.2,437.0 490.4,437.4 492.5,437.9 494.7,438.4 496.9,438.8 499.0,439.3 501.2,439.9 503.4,440.4 505.5,440.9 507.7,441.5 509.8,442.0 512.0,442.6 514.1,443.2 516.2,443.8 518.4,444.4 520.5,445.0 522.6,445.6 524.8,446.2 526.9,446.9 529.0,447.5 531.1,448.2 533.2,448.9 535.4,449.6 537.5,450.3 539.6,451.0 541.7,451.7 543.8,452.4 545.9,453.2 548.0,453.9 550.1,454.7 552.2,455.5 554.3,456.2 556.4,457.0 558.5,457.8 560.5,458.6 562.6,459.5 564.7,460.3 566.8,461.1 568.9,462.0 570.9,462.8 573.0,463.7 575.1,464.6 577.1,465.5 579.2,466.4 581.2,467.3 583.3,468.3 585.3,469.2 587.3,470.2 589.3,471.2 591.3,472.2 593.3,473.2 595.3,474.2 597.3,475.3 599.2,476.3 601.2,477.4 603.1,478.5 605.0,479.6 606.9,480.8 608.8,481.9 610.7,483.1 612.5,484.3 614.4,485.5 616.2,486.8 618.0,488.1 619.8,489.3 621.6,490.7 623.3,492.0 625.1,493.4 626.8,494.7 628.5,496.2 630.2,497.6 631.8,499.0 633.4,500.5 635.0,502.1 636.6,503.6 638.2,505.2 639.7,506.8 641.2,508.4 642.7,510.0 644.2,511.7 645.6,513.4 647.1,515.1 648.5,516.8 649.9,518.5 651.3,520.3 652.6,522.1 654.0,523.9 655.3,525.7 656.6,527.5 657.9,529.4 659.2,531.2 660.4,533.1 661.7,535.0 662.9,536.9 664.1,538.8 665.3,540.7 666.5,542.6 667.7,544.5 668.9,546.4 670.1,548.4 671.2,550.3 672.4,552.3 673.5,554.2 674.7,556.1 675.8,558.1 676.9,560.0 678.0,562.0 679.1,563.9 680.2,565.9 681.3,567.8 682.4,569.8 683.5,571.7 684.6,573.6 685.6,575.5 686.7,577.4 687.8,579.3 688.9,581.2 689.9,583.1 691.0,585.0"/>
<path d="M175.5,620.3 175.6,617.7 175.8,615.1 176.1,612.6 176.5,610.0 177.0,607.5 177.5,605.0 178.1,602.6 178.7,600.1 179.4,597.7 180.2,595.3 181.0,592.9 181.8,590.5 182.7,588.2 183.6,585.8 184.6,583.5 185.6,581.1 186.6,578.8 187.7,576.5 188.7,574.1 189.8,571.8 190.9,569.5 192.0,567.2 193.1,564.9 194.2,562.6 195.2,560.3 196.3,557.9 197.4,555.6 198.4,553.3 199.4,550.9 200.4,548.6 201.4,546.3 202.4,543.9 203.4,541.6 204.4,539.2 205.4,536.9 206.3,534.5 207.3,532.2 208.3,529.9 209.3,527.5 210.3,525.2 211.3,522.9 212.4,520.6 213.4,518.4 214.5,516.1 215.6,513.9 216.7,511.6 217.9,509.4 219.1,507.3 220.4,505.1 221.6,503.0 223.0,500.8 224.3,498.8 225.7,496.7 227.2,494.7 228.7,492.7 230.3,490.7 231.9,488.8 233.6,486.9 235.3,485.0 237.1,483.2 238.9,481.4 240.8,479.6 242.7,477.8 244.6,476.1 246.6,474.4 248.6,472.7 250.6,471.0 252.7,469.4 254.8,467.8 256.9,466.2 259.1,464.6 261.3,463.1 263.5,461.6 265.7,460.0 267.9,458.5 270.2,457.1 272.4,455.6 274.7,454.2 277.0,452.7 279.3,451.3 281.6,449.9 283.9,448.5 286.2,447.2 288.5,445.8 290.8,444.4 293.1,443.1 295.4,441.8 297.7,440.4 299.9,439.1 302.2,437.8 304.4,436.5 306.7,435.2 308.9,433.9 311.1,432.7 313.3,431.4 315.6,430.1 317.8,428.9 320.0,427.7 322.2,426.4 324.4,425.2 326.6,424.0 328.8,422.8 331.0,421.7 333.2,420.5 335.4,419.4 337.6,418.2 339.8,417.1 342.0,416.0 344.2,414.9 346.4,413.8 348.6,412.8 350.9,411.7 353.1,410.7 355.3,409.7 357.6,408.7 359.9,407.7 362.1,406.7 364.4,405.8 366.7,404.9 369.0,404.0 371.4,403.1 373.7,402.2 376.1,401.4 378.4,400.5 380.8,399.7 383.2,398.9 385.6,398.2 388.0,397.4 390.5,396.7 392.9,396.0 395.4,395.3 397.8,394.6 400.3,394.0 402.8,393.3 405.3,392.7 407.8,392.1 410.3,391.6 412.8,391.0 415.3,390.5 417.8,390.0 420.4,389.5 422.9,389.0 425.5,388.6 428.0,388.2 430.6,387.8 433.1,387.4 435.7,387.0 438.2,386.7 440.8,386.3 443.3,386.0 445.9,385.7 448.5,385.5 451.0,385.2 453.6,385.0 456.2,384.8 458.7,384.6 461.3,384.5 463.8,384.3 466.4,384.2 468.9,384.1 471.5,384.1 474.0,384.0 476.6,384.0 479.1,384.0 481.7,384.0 484.2,384.0 486.8,384.1 489.3,384.1 491.9,384.2 494.4,384.3 496.9,384.5 499.5,384.6 502.0,384.8 504.5,385.0 507.1,385.2 509.6,385.4 512.1,385.7 514.6,385.9 517.2,386.2 519.7,386.6 522.2,386.9 524.7,387.2 527.2,387.6 529.7,388.0 532.3,388.4 534.8,388.9 537.3,389.3 539.8,389.8 542.3,390.3 544.8,390.8 547.3,391.3 549.8,391.9 552.2,392.4 554.7,393.0 557.2,393.6 559.7,394.2 562.2,394.9 564.7,395.5 567.1,396.2 569.6,396.9 572.1,397.6 574.5,398.3 577.0,399.1 579.4,399.8 581.9,400.6 584.3,401.4 586.8,402.1 589.2,403.0 591.7,403.8 594.1,404.6 596.5,405.5 599.0,406.3 601.4,407.2 603.8,408.1 606.2,409.0 608.6,409.9 611.0,410.8 613.4,411.7 615.8,412.6 618.2,413.6 620.6,414.6 623.0,415.5 625.4,416.5 627.7,417.5 630.1,418.5 632.5,419.5 634.8,420.5 637.2,421.5 639.5,422.6 641.8,423.7 644.2,424.7 646.5,425.8 648.8,426.9 651.1,428.1 653.3,429.2 655.6,430.4 657.9,431.5 660.1,432.7 662.3,434.0 664.6,435.2 666.8,436.5 669.0,437.7 671.1,439.0 673.3,440.4 675.4,441.7 677.6,443.1 679.7,444.5 681.8,445.9 683.9,447.3 685.9,448.8 688.0,450.3 690.0,451.8 692.0,453.4 694.0,455.0 696.0,456.6 697.9,458.2 699.8,459.9 701.8,461.6 703.6,463.3 705.5,465.1 707.3,466.9 709.2,468.7 710.9,470.5 712.7,472.3 714.5,474.2 716.2,476.1 717.9,478.1 719.5,480.0 721.2,482.0 722.8,484.0 724.4,486.0 725.9,488.1 727.4,490.1 728.9,492.2 730.4,494.3 731.9,496.5 733.3,498.6 734.6,500.8 736.0,503.0 737.3,505.2 738.6,507.4 739.8,509.6 741.0,511.9 742.2,514.2 743.4,516.5 744.5,518.8 745.5,521.1 746.6,523.4 747.6,525.8 748.6,528.1 749.5,530.5 750.4,532.9 751.2,535.3 752.0,537.7 752.8,540.2 753.5,542.6 754.2,545.1 754.9,547.5 755.5,550.0"/>
<path d="M175.5,620.3 175.4,617.4 175.5,614.6 175.6,611.7 175.9,608.9 176.2,606.1 176.7,603.4 177.2,600.7 177.8,597.9 178.4,595.2 179.2,592.6 179.9,589.9 180.8,587.2 181.7,584.6 182.6,582.0 183.6,579.4 184.6,576.7 185.6,574.1 186.6,571.5 187.7,568.9 188.7,566.3 189.8,563.7 190.9,561.1 191.9,558.5 192.9,555.9 194.0,553.3 195.0,550.6 195.9,548.0 196.9,545.4 197.9,542.7 198.8,540.1 199.7,537.4 200.7,534.8 201.6,532.1 202.5,529.5 203.5,526.9 204.4,524.2 205.4,521.6 206.4,519.0 207.4,516.4 208.4,513.9 209.5,511.3 210.6,508.8 211.8,506.2 212.9,503.7 214.2,501.3 215.4,498.8 216.8,496.4 218.1,494.0 219.6,491.6 221.1,489.3 222.6,487.0 224.3,484.7 226.0,482.4 227.7,480.2 229.5,478.0 231.3,475.9 233.2,473.8 235.2,471.7 237.2,469.6 239.2,467.5 241.2,465.5 243.3,463.5 245.5,461.5 247.6,459.6 249.8,457.6 252.1,455.7 254.3,453.8 256.6,451.9 258.9,450.1 261.2,448.2 263.5,446.4 265.8,444.6 268.1,442.8 270.5,441.1 272.8,439.3 275.2,437.6 277.5,435.8 279.8,434.1 282.2,432.4 284.5,430.7 286.8,429.0 289.1,427.4 291.4,425.7 293.7,424.0 296.0,422.4 298.2,420.8 300.5,419.2 302.8,417.6 305.0,416.0 307.3,414.4 309.5,412.8 311.8,411.3 314.1,409.7 316.3,408.2 318.6,406.7 320.8,405.2 323.1,403.7 325.4,402.2 327.7,400.7 330.0,399.3 332.3,397.9 334.6,396.5 337.0,395.1 339.3,393.7 341.7,392.3 344.0,391.0 346.4,389.6 348.8,388.3 351.3,387.0 353.7,385.7 356.2,384.4 358.7,383.2 361.2,382.0 363.7,380.7 366.2,379.5 368.8,378.4 371.4,377.2 374.0,376.1 376.6,374.9 379.2,373.8 381.8,372.7 384.5,371.7 387.1,370.6 389.8,369.6 392.5,368.6 395.2,367.6 397.9,366.6 400.6,365.7 403.3,364.8 406.1,363.9 408.8,363.0 411.5,362.1 414.3,361.3 417.1,360.5 419.8,359.7 422.6,358.9 425.4,358.2 428.1,357.4 430.9,356.7 433.7,356.1 436.5,355.4 439.2,354.8 442.0,354.2 444.8,353.6 447.6,353.0 450.3,352.5 453.1,352.0 455.9,351.5 458.7,351.0 461.5,350.6 464.2,350.2 467.0,349.8 469.8,349.5 472.6,349.2 475.4,348.9 478.1,348.6 480.9,348.3 483.7,348.1 486.5,348.0 489.3,347.8 492.1,347.7 494.8,347.6 497.6,347.5 500.4,347.5 503.2,347.5 506.0,347.5 508.8,347.6 511.6,347.7 514.4,347.8 517.1,347.9 519.9,348.1 522.7,348.4 525.5,348.6 528.3,348.9 531.1,349.2 533.9,349.5 536.7,349.9 539.5,350.3 542.2,350.7 545.0,351.1 547.8,351.6 550.6,352.1 553.4,352.6 556.2,353.1 559.0,353.6 561.7,354.2 564.5,354.8 567.3,355.3 570.1,355.9 572.9,356.5 575.6,357.2 578.4,357.8 581.2,358.4 583.9,359.1 586.7,359.7 589.5,360.4 592.2,361.1 595.0,361.7 597.7,362.4 600.5,363.1 603.2,363.7 606.0,364.4 608.7,365.1 611.5,365.8 614.2,366.4 616.9,367.1 619.7,367.8 622.4,368.5 625.1,369.2 627.8,369.9 630.5,370.7 633.2,371.4 635.9,372.1 638.6,372.9 641.3,373.7 644.0,374.5 646.7,375.3 649.3,376.1 652.0,376.9 654.6,377.8 657.3,378.7 659.9,379.6 662.5,380.5 665.2,381.5 667.8,382.5 670.4,383.5 672.9,384.5 675.5,385.6 678.1,386.7 680.7,387.9 683.2,389.0 685.7,390.2 688.3,391.5 690.8,392.7 693.3,394.0 695.8,395.4 698.3,396.7 700.7,398.1 703.2,399.5 705.6,401.0 708.0,402.5 710.4,404.0 712.8,405.6 715.2,407.1 717.5,408.7 719.8,410.4 722.1,412.0 724.4,413.7 726.7,415.4 729.0,417.2 731.2,418.9 733.4,420.7 735.6,422.5 737.7,424.4 739.9,426.3 742.0,428.1 744.1,430.1 746.1,432.0 748.1,434.0 750.1,435.9 752.1,437.9 754.1,440.0 756.0,442.0 757.9,444.1 759.8,446.2 761.6,448.3 763.4,450.4 765.2,452.6 767.0,454.7 768.8,456.9 770.5,459.1 772.2,461.3 773.9,463.5 775.6,465.8 777.2,468.0 778.9,470.3 780.5,472.6 782.1,474.9 783.7,477.2 785.3,479.5 786.8,481.8 788.4,484.2 789.9,486.5 791.4,488.9 792.9,491.2 794.4,493.6 795.9,496.0 797.4,498.4 798.9,500.8 800.4,503.2 801.9,505.6 803.3,508.0 804.8,510.4 806.2,512.9 807.7,515.3 809.1,517.7 810.6,520.1 812.0,522.6 813.5,525.0"/>
<path d="M175.5,620.3 175.1,617.2 174.9,614.2 174.9,611.2 174.9,608.3 175.1,605.4 175.4,602.5 175.8,599.7 176.3,596.9 176.8,594.1 177.5,591.3 178.2,588.6 179.0,585.8 179.8,583.1 180.7,580.4 181.7,577.7 182.6,575.0 183.6,572.3 184.6,569.6 185.6,566.9 186.6,564.2 187.5,561.5 188.5,558.8 189.4,556.0 190.3,553.3 191.2,550.5 192.0,547.7 192.8,544.9 193.6,542.1 194.3,539.2 195.0,536.4 195.7,533.5 196.4,530.7 197.1,527.8 197.7,525.0 198.4,522.1 199.1,519.3 199.8,516.4 200.5,513.6 201.3,510.8 202.1,508.0 202.9,505.2 203.7,502.4 204.6,499.7 205.5,497.0 206.5,494.3 207.5,491.6 208.7,489.0 209.8,486.4 211.1,483.8 212.4,481.3 213.8,478.8 215.2,476.4 216.7,474.0 218.3,471.6 219.9,469.2 221.6,466.9 223.3,464.6 225.1,462.3 226.9,460.1 228.8,457.9 230.7,455.7 232.6,453.5 234.6,451.4 236.6,449.2 238.6,447.1 240.7,445.0 242.8,442.9 244.9,440.9 247.1,438.8 249.2,436.8 251.4,434.7 253.6,432.7 255.7,430.7 257.9,428.7 260.1,426.7 262.3,424.7 264.5,422.7 266.7,420.7 268.9,418.8 271.1,416.8 273.3,414.8 275.4,412.8 277.6,410.9 279.8,408.9 281.9,407.0 284.1,405.0 286.3,403.1 288.4,401.2 290.6,399.3 292.8,397.4 295.0,395.5 297.1,393.6 299.3,391.8 301.5,389.9 303.7,388.1 306.0,386.3 308.2,384.5 310.4,382.7 312.7,381.0 314.9,379.3 317.2,377.6 319.5,375.9 321.8,374.2 324.1,372.6 326.5,370.9 328.8,369.4 331.2,367.8 333.6,366.3 336.0,364.7 338.4,363.3 340.9,361.8 343.3,360.4 345.8,358.9 348.3,357.6 350.8,356.2 353.4,354.8 355.9,353.5 358.5,352.2 361.1,350.9 363.6,349.7 366.2,348.4 368.9,347.2 371.5,346.0 374.1,344.8 376.8,343.6 379.5,342.5 382.1,341.3 384.8,340.2 387.5,339.1 390.2,338.0 393.0,336.9 395.7,335.9 398.4,334.8 401.2,333.8 403.9,332.7 406.7,331.7 409.5,330.7 412.2,329.7 415.0,328.7 417.8,327.7 420.6,326.8 423.4,325.8 426.2,324.9 429.0,324.0 431.8,323.1 434.6,322.3 437.5,321.4 440.3,320.6 443.1,319.9 446.0,319.1 448.8,318.4 451.7,317.7 454.5,317.0 457.4,316.4 460.2,315.8 463.1,315.3 465.9,314.8 468.8,314.3 471.7,313.9 474.5,313.5 477.4,313.2 480.3,312.9 483.1,312.6 486.0,312.5 488.9,312.3 491.7,312.2 494.6,312.2 497.5,312.2 500.3,312.3 503.2,312.4 506.1,312.5 508.9,312.7 511.8,312.9 514.7,313.2 517.5,313.5 520.4,313.9 523.3,314.2 526.1,314.7 529.0,315.1 531.9,315.6 534.7,316.1 537.6,316.6 540.4,317.1 543.3,317.7 546.1,318.3 549.0,318.9 551.8,319.5 554.7,320.1 557.5,320.8 560.4,321.4 563.2,322.1 566.1,322.8 568.9,323.5 571.8,324.2 574.6,324.8 577.4,325.5 580.3,326.2 583.1,326.9 585.9,327.6 588.8,328.3 591.6,329.0 594.4,329.7 597.2,330.4 600.0,331.1 602.8,331.9 605.6,332.6 608.5,333.3 611.3,334.1 614.1,334.8 616.9,335.6 619.6,336.4 622.4,337.1 625.2,337.9 628.0,338.7 630.8,339.5 633.6,340.4 636.3,341.2 639.1,342.1 641.9,342.9 644.6,343.8 647.4,344.7 650.1,345.6 652.9,346.5 655.6,347.5 658.4,348.4 661.1,349.4 663.8,350.4 666.5,351.4 669.3,352.5 672.0,353.5 674.7,354.6 677.4,355.7 680.0,356.8 682.7,357.9 685.4,359.1 688.0,360.2 690.7,361.4 693.3,362.6 696.0,363.9 698.6,365.1 701.2,366.4 703.8,367.7 706.4,369.0 708.9,370.4 711.5,371.8 714.0,373.2 716.5,374.6 719.1,376.0 721.5,377.5 724.0,379.0 726.5,380.5 728.9,382.1 731.4,383.7 733.8,385.3 736.2,386.9 738.6,388.5 740.9,390.2 743.3,391.9 745.6,393.7 747.9,395.4 750.2,397.2 752.5,399.0 754.7,400.8 757.0,402.7 759.2,404.6 761.4,406.5 763.6,408.4 765.8,410.3 767.9,412.3 770.1,414.2 772.2,416.2 774.3,418.2 776.4,420.3 778.5,422.3 780.5,424.4 782.6,426.4 784.6,428.5 786.6,430.6 788.6,432.8 790.6,434.9 792.6,437.0 794.5,439.2 796.5,441.4 798.4,443.6 800.3,445.8 802.2,448.0 804.1,450.2 805.9,452.4 807.8,454.7 809.6,456.9 811.4,459.2 813.3,461.4 815.0,463.7 816.8,466.0 818.6,468.3 820.3,470.6 822.1,472.9 823.8,475.2 825.5,477.5"/>
</g>
<rect x="1245.6" y="577.8" width="9.2" height="9.2" fill="#000"/>
<rect x="1247.4" y="575.1" width="9.2" height="9.2" fill="#000"/>
<rect x="1249.4" y="572.5" width="9.2" height="9.2" fill="#000"/>
<rect x="1251.6" y="570.0" width="9.2" height="9.2" fill="#000"/>
<rect x="1254.0" y="567.6" width="9.2" height="9.2" fill="#000"/>
<rect x="1256.5" y="565.4" width="9.2" height="9.2" fill="#000"/>
<rect x="1259.3" y="563.2" width="9.2" height="9.2" fill="#000"/>
<rect x="1262.1" y="561.2" width="9.2" height="9.2" fill="#000"/>
<rect x="1265.2" y="559.3" width="9.2" height="9.2" fill="#000"/>
<rect x="1268.3" y="557.5" width="9.2" height="9.2" fill="#000"/>
<rect x="1271.6" y="555.9" width="9.2" height="9.2" fill="#000"/>
<rect x="1275.0" y="554.4" width="9.2" height="9.2" fill="#000"/>
<rect x="1278.5" y="553.1" width="9.2" height="9.2" fill="#000"/>
<rect x="1282.1" y="552.0" width="9.2" height="9.2" fill="#000"/>
<rect x="1285.8" y="551.0" width="9.2" height="9.2" fill="#000"/>
<rect x="1289.6" y="550.2" width="9.2" height="9.2" fill="#000"/>
<rect x="1293.4" y="549.5" width="9.2" height="9.2" fill="#000"/>
<rect x="1297.2" y="549.1" width="9.2" height="9.2" fill="#000"/>
<rect x="1301.1" y="548.8" width="9.2" height="9.2" fill="#000"/>
<rect x="1305.0" y="548.7" width="9.2" height="9.2" fill="#000"/>
<rect x="1308.9" y="548.7" width="9.2" height="9.2" fill="#000"/>
<rect x="1312.8" y="549.0" width="9.2" height="9.2" fill="#000"/>
<rect x="1316.6" y="549.4" width="9.2" height="9.2" fill="#000"/>
<rect x="1320.4" y="550.0" width="9.2" height="9.2" fill="#000"/>
<rect x="1324.2" y="550.7" width="9.2" height="9.2" fill="#000"/>
<rect x="1327.9" y="551.7" width="9.2" height="9.2" fill="#000"/>
<rect x="1331.5" y="552.7" width="9.2" height="9.2" fill="#000"/>
<rect x="1335.1" y="554.0" width="9.2" height="9.2" fill="#000"/>
<rect x="1338.5" y="555.4" width="9.2" height="9.2" fill="#000"/>
<rect x="1341.8" y="557.0" width="9.2" height="9.2" fill="#000"/>
<rect x="1345.0" y="558.7" width="9.2" height="9.2" fill="#000"/>
<rect x="1348.1" y="560.6" width="9.2" height="9.2" fill="#000"/>
<rect x="1351.0" y="562.5" width="9.2" height="9.2" fill="#000"/>
<rect x="1353.8" y="564.7" width="9.2" height="9.2" fill="#000"/>
<rect x="1356.4" y="566.9" width="9.2" height="9.2" fill="#000"/>
<rect x="1358.9" y="569.3" width="9.2" height="9.2" fill="#000"/>
<rect x="1361.1" y="571.7" width="9.2" height="9.2" fill="#000"/>
<rect x="1363.2" y="574.3" width="9.2" height="9.2" fill="#000"/>
<rect x="1365.1" y="576.9" width="9.2" height="9.2" fill="#000"/>
<rect x="1366.7" y="579.7" width="9.2" height="9.2" fill="#000"/>
<rect x="1368.2" y="582.5" width="9.2" height="9.2" fill="#000"/>
<circle cx="1247.1" cy="570.4" r="5.3" fill="#ff0000"/>
<circle cx="1247.3" cy="568.1" r="5.3" fill="#ff0000"/>
<circle cx="1247.6" cy="565.4" r="5.3" fill="#ff0000"/>
<circle cx="1248.1" cy="562.2" r="5.3" fill="#ff0000"/>
<circle cx="1248.8" cy="558.4" r="5.3" fill="#ff0000"/>
<circle cx="1249.8" cy="553.7" r="5.3" fill="#ff0000"/>
<circle cx="1251.2" cy="548.2" r="5.3" fill="#ff0000"/>
<circle cx="1253.3" cy="541.7" r="5.3" fill="#ff0000"/>
<circle cx="1256.2" cy="533.9" r="5.3" fill="#ff0000"/>
<circle cx="1260.4" cy="524.9" r="5.3" fill="#ff0000"/>
<circle cx="1266.7" cy="514.0" r="5.3" fill="#ff0000"/>
<circle cx="1276.9" cy="500.4" r="5.3" fill="#ff0000"/>
<circle cx="1290.5" cy="483.4" r="5.3" fill="#ff0000"/>
<circle cx="1315.2" cy="465.5" r="5.3" fill="#ff0000"/>
<circle cx="1330.5" cy="454.5" r="5.3" fill="#ff0000"/>
<circle cx="1351.8" cy="446.0" r="5.3" fill="#ff0000"/>
<circle cx="1374.9" cy="438.8" r="5.3" fill="#ff0000"/>
<circle cx="1401.7" cy="434.3" r="5.3" fill="#ff0000"/>
<circle cx="1427.2" cy="432.6" r="5.3" fill="#ff0000"/>
<circle cx="1456.2" cy="433.4" r="5.3" fill="#ff0000"/>
<circle cx="1481.7" cy="438.2" r="5.3" fill="#ff0000"/>
<circle cx="1508.5" cy="445.7" r="5.3" fill="#ff0000"/>
<circle cx="1529.4" cy="455.6" r="5.3" fill="#ff0000"/>
<circle cx="1543.6" cy="463.4" r="5.3" fill="#ff0000"/>
<circle cx="1555.9" cy="469.7" r="5.3" fill="#ff0000"/>
<circle cx="1567.0" cy="478.5" r="5.3" fill="#ff0000"/>
<circle cx="1576.8" cy="487.4" r="5.3" fill="#ff0000"/>
<circle cx="1583.9" cy="495.6" r="5.3" fill="#ff0000"/>
<circle cx="1589.6" cy="502.8" r="5.3" fill="#ff0000"/>
<circle cx="1595.2" cy="510.1" r="5.3" fill="#ff0000"/>
<circle cx="1600.1" cy="517.9" r="5.3" fill="#ff0000"/>
<circle cx="1605.6" cy="527.5" r="5.3" fill="#ff0000"/>
<circle cx="1610.5" cy="536.4" r="5.3" fill="#ff0000"/>
<circle cx="1613.9" cy="546.4" r="5.3" fill="#ff0000"/>
<circle cx="1616.1" cy="555.8" r="5.3" fill="#ff0000"/>
<circle cx="1617.9" cy="566.9" r="5.3" fill="#ff0000"/>
<circle cx="1618.3" cy="573.1" r="5.3" fill="#ff0000"/>
<path d="M1248.9,576.6L1255.0,587.4L1242.8,587.4Z" fill="#0000ff"/>
<path d="M1249.6,574.5L1255.7,585.3L1243.5,585.3Z" fill="#0000ff"/>
<path d="M1250.5,571.9L1256.6,582.7L1244.4,582.7Z" fill="#0000ff"/>
<path d="M1251.5,568.9L1257.6,579.7L1245.4,579.7Z" fill="#0000ff"/>
<path d="M1252.8,565.1L1258.9,575.9L1246.7,575.9Z" fill="#0000ff"/>
<path d="M1254.2,560.6L1260.3,571.4L1248.1,571.4Z" fill="#0000ff"/>
<path d="M1256.0,555.2L1262.1,566.0L1249.9,566.0Z" fill="#0000ff"/>
<path d="M1258.2,548.7L1264.3,559.5L1252.1,559.5Z" fill="#0000ff"/>
<path d="M1260.9,540.9L1267.0,551.7L1254.8,551.7Z" fill="#0000ff"/>
<path d="M1264.4,531.6L1270.5,542.4L1258.3,542.4Z" fill="#0000ff"/>
<path d="M1269.3,520.6L1275.4,531.4L1263.2,531.4Z" fill="#0000ff"/>
<path d="M1276.9,505.2L1283.0,516.0L1270.8,516.0Z" fill="#0000ff"/>
<path d="M1288.0,490.8L1294.1,501.6L1281.9,501.6Z" fill="#0000ff"/>
<path d="M1303.3,472.9L1309.4,483.7L1297.2,483.7Z" fill="#0000ff"/>
<path d="M1325.4,456.7L1331.5,467.5L1319.3,467.5Z" fill="#0000ff"/>
<path d="M1343.3,444.0L1349.4,454.8L1337.2,454.8Z" fill="#0000ff"/>
<path d="M1370.0,430.4L1376.1,441.2L1363.9,441.2Z" fill="#0000ff"/>
<path d="M1400.0,422.9L1406.1,433.7L1393.9,433.7Z" fill="#0000ff"/>
<path d="M1428.9,417.8L1435.0,428.6L1422.8,428.6Z" fill="#0000ff"/>
<path d="M1458.7,416.9L1464.8,427.7L1452.6,427.7Z" fill="#0000ff"/>
<path d="M1485.1,418.6L1491.2,429.4L1479.0,429.4Z" fill="#0000ff"/>
<path d="M1512.2,424.6L1518.3,435.4L1506.1,435.4Z" fill="#0000ff"/>
<path d="M1532.4,431.4L1538.5,442.2L1526.3,442.2Z" fill="#0000ff"/>
<path d="M1548.1,438.4L1554.2,449.2L1542.0,449.2Z" fill="#0000ff"/>
<path d="M1561.3,444.1L1567.4,454.9L1555.2,454.9Z" fill="#0000ff"/>
<path d="M1578.2,454.3L1584.3,465.1L1572.1,465.1Z" fill="#0000ff"/>
<path d="M1587.8,461.9L1593.9,472.7L1581.7,472.7Z" fill="#0000ff"/>
<path d="M1599.0,470.4L1605.1,481.2L1592.9,481.2Z" fill="#0000ff"/>
<path d="M1612.6,484.0L1618.7,494.8L1606.5,494.8Z" fill="#0000ff"/>
<path d="M1621.4,493.7L1627.5,504.5L1615.3,504.5Z" fill="#0000ff"/>
<path d="M1630.1,505.4L1636.2,516.2L1624.0,516.2Z" fill="#0000ff"/>
<path d="M1636.3,515.9L1642.4,526.7L1630.2,526.7Z" fill="#0000ff"/>
<path d="M1641.2,527.0L1647.3,537.8L1635.1,537.8Z" fill="#0000ff"/>
<path d="M1645.0,538.1L1651.1,548.9L1638.9,548.9Z" fill="#0000ff"/>
<path d="M1649.0,547.0L1655.1,557.8L1642.9,557.8Z" fill="#0000ff"/>
<path d="M1653.0,551.5L1659.1,562.3L1646.9,562.3Z" fill="#0000ff"/>
<path d="M1654.6,554.8L1660.7,565.6L1648.5,565.6Z" fill="#0000ff"/>
<path d="M1252.0,593.4L1258.1,582.6L1245.9,582.6Z" fill="#ff00ff"/>
<path d="M1250.5,579.2L1256.6,568.4L1244.4,568.4Z" fill="#ff00ff"/>
<path d="M1250.7,577.0L1256.8,566.2L1244.6,566.2Z" fill="#ff00ff"/>
<path d="M1250.9,574.3L1257.0,563.5L1244.8,563.5Z" fill="#ff00ff"/>
<path d="M1251.3,571.1L1257.4,560.3L1245.2,560.3Z" fill="#ff00ff"/>
<path d="M1251.8,567.2L1257.9,556.4L1245.7,556.4Z" fill="#ff00ff"/>
<path d="M1252.7,562.5L1258.8,551.7L1246.6,551.7Z" fill="#ff00ff"/>
<path d="M1254.0,557.0L1260.1,546.2L1247.9,546.2Z" fill="#ff00ff"/>
<path d="M1255.8,550.4L1261.9,539.6L1249.7,539.6Z" fill="#ff00ff"/>
<path d="M1258.6,542.6L1264.7,531.8L1252.5,531.8Z" fill="#ff00ff"/>
<path d="M1262.4,533.4L1268.5,522.6L1256.3,522.6Z" fill="#ff00ff"/>
<path d="M1267.6,522.8L1273.7,512.0L1261.5,512.0Z" fill="#ff00ff"/>
<path d="M1276.1,509.2L1282.2,498.4L1270.0,498.4Z" fill="#ff00ff"/>
<path d="M1288.8,493.9L1294.9,483.1L1282.7,483.1Z" fill="#ff00ff"/>
<path d="M1310.1,476.9L1316.2,466.1L1304.0,466.1Z" fill="#ff00ff"/>
<path d="M1334.8,454.8L1340.9,444.0L1328.7,444.0Z" fill="#ff00ff"/>
<path d="M1356.1,443.2L1362.2,432.4L1350.0,432.4Z" fill="#ff00ff"/>
<path d="M1378.7,434.1L1384.8,423.3L1372.6,423.3Z" fill="#ff00ff"/>
<path d="M1401.7,425.2L1407.8,414.4L1395.6,414.4Z" fill="#ff00ff"/>
<path d="M1429.8,419.2L1435.9,408.4L1423.7,408.4Z" fill="#ff00ff"/>
<path d="M1455.3,416.7L1461.4,405.9L1449.2,405.9Z" fill="#ff00ff"/>
<path d="M1489.4,415.8L1495.5,405.0L1483.3,405.0Z" fill="#ff00ff"/>
<path d="M1512.5,417.4L1518.6,406.6L1506.4,406.6Z" fill="#ff00ff"/>
<path d="M1534.3,421.2L1540.4,410.4L1528.2,410.4Z" fill="#ff00ff"/>
<path d="M1559.9,426.1L1566.0,415.3L1553.8,415.3Z" fill="#ff00ff"/>
<path d="M1596.2,439.3L1602.3,428.5L1590.1,428.5Z" fill="#ff00ff"/>
<path d="M1622.7,451.6L1628.8,440.8L1616.6,440.8Z" fill="#ff00ff"/>
<path d="M1648.7,471.1L1654.8,460.3L1642.6,460.3Z" fill="#ff00ff"/>
<path d="M1669.1,489.4L1675.2,478.6L1663.0,478.6Z" fill="#ff00ff"/>
<path d="M1684.8,504.4L1690.9,493.6L1678.7,493.6Z" fill="#ff00ff"/>
<path d="M1693.5,516.7L1699.6,505.9L1687.4,505.9Z" fill="#ff00ff"/>
<path d="M1699.1,526.7L1705.2,515.9L1693.0,515.9Z" fill="#ff00ff"/>
<path d="M1703.6,534.5L1709.7,523.7L1697.5,523.7Z" fill="#ff00ff"/>
<path d="M1706.9,541.6L1713.0,530.8L1700.8,530.8Z" fill="#ff00ff"/>
<path d="M1708.7,547.8L1714.8,537.0L1702.6,537.0Z" fill="#ff00ff"/>
<path d="M1709.6,554.5L1715.7,543.7L1703.5,543.7Z" fill="#ff00ff"/>
<path d="M1709.6,560.7L1715.7,549.9L1703.5,549.9Z" fill="#ff00ff"/>
<path d="M1244.1,572.9L1250.5,579.3L1244.1,585.7L1237.7,579.3Z" fill="#008000"/>
<path d="M1244.1,570.6L1250.5,577.0L1244.1,583.4L1237.7,577.0Z" fill="#008000"/>
<path d="M1244.2,568.0L1250.6,574.4L1244.2,580.8L1237.8,574.4Z" fill="#008000"/>
<path d="M1244.5,564.7L1250.9,571.1L1244.5,577.5L1238.1,571.1Z" fill="#008000"/>
<path d="M1245.0,560.8L1251.4,567.2L1245.0,573.6L1238.6,567.2Z" fill="#008000"/>
<path d="M1245.9,556.2L1252.3,562.6L1245.9,569.0L1239.5,562.6Z" fill="#008000"/>
<path d="M1247.2,550.6L1253.6,557.0L1247.2,563.4L1240.8,557.0Z" fill="#008000"/>
<path d="M1249.1,544.0L1255.5,550.4L1249.1,556.8L1242.7,550.4Z" fill="#008000"/>
<path d="M1252.0,536.3L1258.4,542.7L1252.0,549.1L1245.6,542.7Z" fill="#008000"/>
<path d="M1256.0,527.2L1262.4,533.6L1256.0,540.0L1249.6,533.6Z" fill="#008000"/>
<path d="M1261.6,515.3L1268.0,521.7L1261.6,528.1L1255.2,521.7Z" fill="#008000"/>
<path d="M1271.0,500.0L1277.4,506.4L1271.0,512.8L1264.6,506.4Z" fill="#008000"/>
<path d="M1281.2,485.5L1287.6,491.9L1281.2,498.3L1274.8,491.9Z" fill="#008000"/>
<path d="M1294.8,467.1L1301.2,473.5L1294.8,479.9L1288.4,473.5Z" fill="#008000"/>
<path d="M1313.5,449.8L1319.9,456.2L1313.5,462.6L1307.1,456.2Z" fill="#008000"/>
<path d="M1336.5,433.6L1342.9,440.0L1336.5,446.4L1330.1,440.0Z" fill="#008000"/>
<path d="M1362.5,417.9L1368.9,424.3L1362.5,430.7L1356.1,424.3Z" fill="#008000"/>
<path d="M1387.6,404.5L1394.0,410.9L1387.6,417.3L1381.2,410.9Z" fill="#008000"/>
<path d="M1419.6,397.7L1426.0,404.1L1419.6,410.5L1413.2,404.1Z" fill="#008000"/>
<path d="M1448.5,389.9L1454.9,396.3L1448.5,402.7L1442.1,396.3Z" fill="#008000"/>
<path d="M1480.5,384.4L1486.9,390.8L1480.5,397.2L1474.1,390.8Z" fill="#008000"/>
<path d="M1515.3,383.2L1521.7,389.6L1515.3,396.0L1508.9,389.6Z" fill="#008000"/>
<path d="M1548.6,386.6L1555.0,393.0L1548.6,399.4L1542.2,393.0Z" fill="#008000"/>
<path d="M1586.1,393.1L1592.5,399.5L1586.1,405.9L1579.7,399.5Z" fill="#008000"/>
<path d="M1620.1,405.0L1626.5,411.4L1620.1,417.8L1613.7,411.4Z" fill="#008000"/>
<path d="M1648.8,417.4L1655.2,423.8L1648.8,430.2L1642.4,423.8Z" fill="#008000"/>
<path d="M1665.3,425.8L1671.7,432.2L1665.3,438.6L1658.9,432.2Z" fill="#008000"/>
<path d="M1679.1,435.2L1685.5,441.6L1679.1,448.0L1672.7,441.6Z" fill="#008000"/>
<path d="M1693.5,445.1L1699.9,451.5L1693.5,457.9L1687.1,451.5Z" fill="#008000"/>
<path d="M1710.3,458.8L1716.7,465.2L1710.3,471.6L1703.9,465.2Z" fill="#008000"/>
<path d="M1726.3,477.0L1732.7,483.4L1726.3,489.8L1719.9,483.4Z" fill="#008000"/>
<path d="M1741.8,497.7L1748.2,504.1L1741.8,510.5L1735.4,504.1Z" fill="#008000"/>
<path d="M1750.3,509.3L1756.7,515.7L1750.3,522.1L1743.9,515.7Z" fill="#008000"/>
<path d="M1753.6,518.2L1760.0,524.6L1753.6,531.0L1747.2,524.6Z" fill="#008000"/>
<path d="M1757.0,524.9L1763.4,531.3L1757.0,537.7L1750.6,531.3Z" fill="#008000"/>
<path d="M1759.9,533.8L1766.3,540.2L1759.9,546.6L1753.5,540.2Z" fill="#008000"/>
<path d="M1762.5,540.5L1768.9,546.9L1762.5,553.3L1756.1,546.9Z" fill="#008000"/>
<path d="M1765.2,547.1L1771.6,553.5L1765.2,559.9L1758.8,553.5Z" fill="#008000"/>
<path d="M1768.1,555.6L1774.5,562.0L1768.1,568.4L1761.7,562.0Z" fill="#008000"/>
<path d="M1228.6,590.3L1239.4,584.2L1239.4,596.4Z" fill="#000080"/>
<path d="M1226.8,586.4L1237.6,580.3L1237.6,592.5Z" fill="#000080"/>
<path d="M1227.6,578.5L1238.4,572.4L1238.4,584.6Z" fill="#000080"/>
<path d="M1230.1,571.3L1240.9,565.2L1240.9,577.4Z" fill="#000080"/>
<path d="M1232.1,564.1L1242.9,558.0L1242.9,570.2Z" fill="#000080"/>
<path d="M1234.0,558.2L1244.8,552.1L1244.8,564.3Z" fill="#000080"/>
<path d="M1236.0,552.4L1246.8,546.3L1246.8,558.5Z" fill="#000080"/>
<path d="M1239.3,545.8L1250.1,539.7L1250.1,551.9Z" fill="#000080"/>
<path d="M1241.2,535.3L1252.0,529.2L1252.0,541.4Z" fill="#000080"/>
<path d="M1245.6,523.0L1256.4,516.9L1256.4,529.1Z" fill="#000080"/>
<path d="M1252.4,506.2L1263.2,500.1L1263.2,512.3Z" fill="#000080"/>
<path d="M1263.0,491.1L1273.8,485.0L1273.8,497.2Z" fill="#000080"/>
<path d="M1277.5,472.3L1288.3,466.2L1288.3,478.4Z" fill="#000080"/>
<path d="M1293.6,454.5L1304.4,448.4L1304.4,460.6Z" fill="#000080"/>
<path d="M1314.1,438.3L1324.9,432.2L1324.9,444.4Z" fill="#000080"/>
<path d="M1338.7,420.4L1349.5,414.3L1349.5,426.5Z" fill="#000080"/>
<path d="M1369.6,405.2L1380.4,399.1L1380.4,411.3Z" fill="#000080"/>
<path d="M1403.0,393.3L1413.8,387.2L1413.8,399.4Z" fill="#000080"/>
<path d="M1442.6,383.8L1453.4,377.7L1453.4,389.9Z" fill="#000080"/>
<path d="M1475.1,378.5L1485.9,372.4L1485.9,384.6Z" fill="#000080"/>
<path d="M1515.1,378.8L1525.9,372.7L1525.9,384.9Z" fill="#000080"/>
<path d="M1544.4,379.8L1555.2,373.7L1555.2,385.9Z" fill="#000080"/>
<path d="M1579.8,385.9L1590.6,379.8L1590.6,392.0Z" fill="#000080"/>
<path d="M1622.1,397.4L1632.9,391.3L1632.9,403.5Z" fill="#000080"/>
<path d="M1648.8,408.5L1659.6,402.4L1659.6,414.6Z" fill="#000080"/>
<path d="M1667.6,418.5L1678.4,412.4L1678.4,424.6Z" fill="#000080"/>
<path d="M1687.7,431.2L1698.5,425.1L1698.5,437.3Z" fill="#000080"/>
<path d="M1708.4,445.2L1719.2,439.1L1719.2,451.3Z" fill="#000080"/>
<path d="M1729.4,463.7L1740.2,457.6L1740.2,469.8Z" fill="#000080"/>
<path d="M1744.9,482.8L1755.7,476.7L1755.7,488.9Z" fill="#000080"/>
<path d="M1754.9,497.5L1765.7,491.4L1765.7,503.6Z" fill="#000080"/>
<path d="M1764.9,510.1L1775.7,504.0L1775.7,516.2Z" fill="#000080"/>
<path d="M1769.4,521.3L1780.2,515.2L1780.2,527.4Z" fill="#000080"/>
<path d="M1773.8,529.1L1784.6,523.0L1784.6,535.2Z" fill="#000080"/>
<path d="M1777.2,535.7L1788.0,529.6L1788.0,541.8Z" fill="#000080"/>
<path d="M1779.8,541.3L1790.6,535.2L1790.6,547.4Z" fill="#000080"/>
<path d="M1782.7,546.9L1793.5,540.8L1793.5,553.0Z" fill="#000080"/>
<path d="M1786.1,552.4L1796.9,546.3L1796.9,558.5Z" fill="#000080"/>
<path d="M1787.2,556.9L1798.0,550.8L1798.0,563.0Z" fill="#000080"/>
<path d="M1244.9,590.0L1234.1,583.9L1234.1,596.1Z" fill="#8000ff"/>
<path d="M1244.4,584.0L1233.6,577.9L1233.6,590.1Z" fill="#8000ff"/>
<path d="M1244.9,577.0L1234.1,570.9L1234.1,583.1Z" fill="#8000ff"/>
<path d="M1245.9,569.0L1235.1,562.9L1235.1,575.1Z" fill="#8000ff"/>
<path d="M1247.4,561.0L1236.6,554.9L1236.6,567.1Z" fill="#8000ff"/>
<path d="M1249.4,553.0L1238.6,546.9L1238.6,559.1Z" fill="#8000ff"/>
<path d="M1251.9,544.0L1241.1,537.9L1241.1,550.1Z" fill="#8000ff"/>
<path d="M1254.9,534.4L1244.1,528.3L1244.1,540.5Z" fill="#8000ff"/>
<path d="M1261.0,515.7L1250.2,509.6L1250.2,521.8Z" fill="#8000ff"/>
<path d="M1269.5,501.8L1258.7,495.7L1258.7,507.9Z" fill="#8000ff"/>
<path d="M1278.9,487.7L1268.1,481.6L1268.1,493.8Z" fill="#8000ff"/>
<path d="M1289.1,472.3L1278.3,466.2L1278.3,478.4Z" fill="#8000ff"/>
<path d="M1304.4,453.5L1293.6,447.4L1293.6,459.6Z" fill="#8000ff"/>
<path d="M1324.0,436.0L1313.2,429.9L1313.2,442.1Z" fill="#8000ff"/>
<path d="M1338.9,422.0L1328.1,415.9L1328.1,428.1Z" fill="#8000ff"/>
<path d="M1367.7,406.9L1356.9,400.8L1356.9,413.0Z" fill="#8000ff"/>
<path d="M1389.7,395.5L1378.9,389.4L1378.9,401.6Z" fill="#8000ff"/>
<path d="M1419.6,382.6L1408.8,376.5L1408.8,388.7Z" fill="#8000ff"/>
<path d="M1461.8,373.6L1451.0,367.5L1451.0,379.7Z" fill="#8000ff"/>
<path d="M1495.3,368.0L1484.5,361.9L1484.5,374.1Z" fill="#8000ff"/>
<path d="M1534.9,365.9L1524.1,359.8L1524.1,372.0Z" fill="#8000ff"/>
<path d="M1567.0,365.7L1556.2,359.6L1556.2,371.8Z" fill="#8000ff"/>
<path d="M1620.0,375.0L1609.2,368.9L1609.2,381.1Z" fill="#8000ff"/>
<path d="M1660.2,386.0L1649.4,379.9L1649.4,392.1Z" fill="#8000ff"/>
<path d="M1693.8,401.0L1683.0,394.9L1683.0,407.1Z" fill="#8000ff"/>
<path d="M1724.0,417.8L1713.2,411.7L1713.2,423.9Z" fill="#8000ff"/>
<path d="M1752.2,435.5L1741.4,429.4L1741.4,441.6Z" fill="#8000ff"/>
<path d="M1774.3,457.3L1763.5,451.2L1763.5,463.4Z" fill="#8000ff"/>
<path d="M1788.0,473.0L1777.2,466.9L1777.2,479.1Z" fill="#8000ff"/>
<path d="M1796.9,485.0L1786.1,478.9L1786.1,491.1Z" fill="#8000ff"/>
<path d="M1805.4,497.9L1794.6,491.8L1794.6,504.0Z" fill="#8000ff"/>
<path d="M1812.5,507.9L1801.7,501.8L1801.7,514.0Z" fill="#8000ff"/>
<path d="M1815.8,516.8L1805.0,510.7L1805.0,522.9Z" fill="#8000ff"/>
<path d="M1821.4,523.5L1810.6,517.4L1810.6,529.6Z" fill="#8000ff"/>
<path d="M1822.5,533.5L1811.7,527.4L1811.7,539.6Z" fill="#8000ff"/>
<g fill="none" stroke="#000" stroke-width="2" stroke-linejoin="round">
<path d="M1246.5,584.5 1246.5,582.6 1246.5,580.7 1246.5,578.9 1246.6,577.0 1246.7,575.2 1246.8,573.4 1247.0,571.5 1247.1,569.7 1247.3,567.9 1247.5,566.1 1247.8,564.4 1248.1,562.6 1248.3,560.8 1248.7,559.1 1249.0,557.4 1249.4,555.6 1249.7,553.9 1250.2,552.2 1250.6,550.5 1251.0,548.8 1251.5,547.2 1252.0,545.5 1252.5,543.8 1253.1,542.2 1253.6,540.6 1254.2,538.9 1254.8,537.3 1255.5,535.7 1256.1,534.1 1256.8,532.6 1257.5,531.0 1258.2,529.4 1258.9,527.9 1259.6,526.4 1260.4,524.8 1261.2,523.3 1262.0,521.8 1262.8,520.3 1263.6,518.8 1264.5,517.4 1265.4,515.9 1266.3,514.5 1267.2,513.0 1268.1,511.6 1269.1,510.2 1270.0,508.8 1271.0,507.4 1272.0,506.0 1273.0,504.6 1274.0,503.3 1275.1,501.9 1276.1,500.6 1277.2,499.3 1278.3,498.0 1279.4,496.7 1280.5,495.4 1281.6,494.1 1282.8,492.8 1283.9,491.6 1285.1,490.3 1286.3,489.1 1287.5,487.9 1288.7,486.6 1289.9,485.4 1291.2,484.3 1292.4,483.1 1293.7,481.9 1295.0,480.8 1296.2,479.6 1297.5,478.5 1298.8,477.4 1300.2,476.3 1301.5,475.2 1302.8,474.1 1304.2,473.0 1305.5,471.9 1306.9,470.9 1308.3,469.9 1309.7,468.8 1311.1,467.8 1312.5,466.8 1313.9,465.8 1315.3,464.8 1316.7,463.9 1318.2,462.9 1319.6,462.0 1321.1,461.0 1322.6,460.1 1324.0,459.2 1325.5,458.3 1327.0,457.4 1328.5,456.6 1330.0,455.7 1331.5,454.9 1333.0,454.0 1334.5,453.2 1336.1,452.4 1337.6,451.6 1339.2,450.8 1340.7,450.1 1342.3,449.3 1343.8,448.6 1345.4,447.8 1347.0,447.1 1348.6,446.4 1350.1,445.7 1351.7,445.1 1353.3,444.4 1354.9,443.7 1356.6,443.1 1358.2,442.5 1359.8,441.9 1361.4,441.3 1363.1,440.7 1364.7,440.1 1366.3,439.6 1368.0,439.0 1369.6,438.5 1371.3,438.0 1372.9,437.5 1374.6,437.0 1376.3,436.5 1377.9,436.0 1379.6,435.6 1381.3,435.2 1383.0,434.8 1384.7,434.3 1386.3,434.0 1388.0,433.6 1389.7,433.2 1391.4,432.9 1393.1,432.6 1394.8,432.2 1396.5,432.0 1398.2,431.7 1400.0,431.4 1401.7,431.2 1403.4,430.9 1405.1,430.7 1406.8,430.5 1408.5,430.3 1410.2,430.2 1412.0,430.0 1413.7,429.9 1415.4,429.8 1417.1,429.7 1418.8,429.6 1420.5,429.5 1422.3,429.5 1424.0,429.4 1425.7,429.4 1427.4,429.4 1429.1,429.5 1430.9,429.5 1432.6,429.6 1434.3,429.6 1436.0,429.7 1437.7,429.9 1439.4,430.0 1441.1,430.2 1442.8,430.3 1444.5,430.5 1446.3,430.7 1448.0,431.0 1449.7,431.2 1451.3,431.5 1453.0,431.8 1454.7,432.1 1456.4,432.4 1458.1,432.8 1459.8,433.1 1461.5,433.5 1463.2,433.9 1464.8,434.3 1466.5,434.7 1468.2,435.1 1469.9,435.6 1471.5,436.1 1473.2,436.5 1474.8,437.0 1476.5,437.5 1478.2,438.0 1479.8,438.5 1481.5,439.1 1483.1,439.6 1484.8,440.2 1486.4,440.7 1488.1,441.3 1489.7,441.9 1491.3,442.5 1493.0,443.1 1494.6,443.7 1496.2,444.3 1497.9,444.9 1499.5,445.5 1501.1,446.1 1502.7,446.8 1504.3,447.4 1506.0,448.0 1507.6,448.7 1509.2,449.3 1510.8,450.0 1512.4,450.6 1514.0,451.3 1515.6,451.9 1517.2,452.6 1518.8,453.3 1520.3,453.9 1521.9,454.6 1523.5,455.3 1525.1,456.0 1526.6,456.7 1528.2,457.3 1529.8,458.0 1531.3,458.8 1532.9,459.5 1534.4,460.2 1535.9,460.9 1537.5,461.7 1539.0,462.4 1540.5,463.2 1542.0,464.0 1543.5,464.8 1545.0,465.6 1546.5,466.4 1547.9,467.2 1549.4,468.0 1550.9,468.9 1552.3,469.7 1553.8,470.6 1555.2,471.5 1556.6,472.4 1558.0,473.3 1559.4,474.3 1560.8,475.2 1562.2,476.2 1563.5,477.2 1564.9,478.2 1566.2,479.2 1567.5,480.2 1568.9,481.3 1570.2,482.4 1571.5,483.5 1572.7,484.6 1574.0,485.8 1575.3,486.9 1576.5,488.1 1577.7,489.3 1578.9,490.6 1580.1,491.8 1581.3,493.1 1582.5,494.3 1583.6,495.6 1584.8,496.9 1585.9,498.3 1587.0,499.6 1588.1,501.0 1589.2,502.4 1590.3,503.7 1591.3,505.2 1592.3,506.6 1593.4,508.0 1594.4,509.4 1595.3,510.9 1596.3,512.4 1597.3,513.8 1598.2,515.3 1599.1,516.8 1600.0,518.3 1600.9,519.9 1601.8,521.4 1602.6,522.9 1603.4,524.5 1604.3,526.0 1605.1,527.6 1605.8,529.1 1606.6,530.7 1607.3,532.3 1608.0,533.9 1608.8,535.5 1609.4,537.1 1610.1,538.7 1610.7,540.3 1611.4,541.9 1612.0,543.5 1612.6,545.1 1613.1,546.7 1613.7,548.3 1614.2,549.9 1614.7,551.5 1615.2,553.1 1615.7,554.8 1616.1,556.4 1616.5,558.0 1616.9,559.6 1617.3,561.2 1617.7,562.8 1618.0,564.4 1618.3,566.0"/>
<path d="M1248.0,584.5 1248.7,582.6 1249.3,580.7 1250.0,578.9 1250.6,577.0 1251.2,575.2 1251.8,573.4 1252.4,571.6 1253.0,569.8 1253.6,568.0 1254.2,566.2 1254.8,564.4 1255.4,562.6 1255.9,560.9 1256.5,559.1 1257.1,557.4 1257.7,555.7 1258.2,554.0 1258.8,552.3 1259.4,550.6 1260.0,548.9 1260.6,547.2 1261.2,545.5 1261.8,543.8 1262.4,542.2 1263.0,540.5 1263.6,538.9 1264.3,537.3 1264.9,535.6 1265.6,534.0 1266.3,532.4 1267.0,530.8 1267.7,529.2 1268.4,527.6 1269.1,526.0 1269.9,524.4 1270.7,522.8 1271.5,521.2 1272.3,519.6 1273.1,518.1 1274.0,516.5 1274.9,514.9 1275.8,513.4 1276.7,511.8 1277.7,510.3 1278.6,508.8 1279.6,507.2 1280.6,505.7 1281.7,504.2 1282.7,502.7 1283.8,501.2 1284.9,499.7 1286.0,498.3 1287.1,496.8 1288.2,495.3 1289.4,493.9 1290.6,492.5 1291.8,491.0 1293.0,489.6 1294.2,488.2 1295.4,486.8 1296.7,485.5 1297.9,484.1 1299.2,482.8 1300.5,481.4 1301.8,480.1 1303.1,478.8 1304.5,477.5 1305.8,476.2 1307.2,475.0 1308.6,473.8 1309.9,472.5 1311.3,471.3 1312.7,470.1 1314.2,469.0 1315.6,467.8 1317.0,466.7 1318.5,465.6 1319.9,464.5 1321.4,463.4 1322.9,462.3 1324.4,461.3 1325.8,460.3 1327.3,459.3 1328.9,458.3 1330.4,457.3 1331.9,456.4 1333.4,455.4 1335.0,454.5 1336.5,453.6 1338.1,452.7 1339.7,451.9 1341.3,451.0 1342.8,450.2 1344.4,449.4 1346.0,448.6 1347.6,447.8 1349.3,447.0 1350.9,446.2 1352.5,445.5 1354.2,444.8 1355.8,444.1 1357.5,443.3 1359.1,442.7 1360.8,442.0 1362.5,441.3 1364.1,440.7 1365.8,440.0 1367.5,439.4 1369.2,438.8 1370.9,438.2 1372.6,437.6 1374.3,437.0 1376.1,436.4 1377.8,435.9 1379.5,435.3 1381.2,434.8 1383.0,434.2 1384.7,433.7 1386.5,433.2 1388.3,432.7 1390.0,432.2 1391.8,431.7 1393.6,431.3 1395.3,430.8 1397.1,430.4 1398.9,429.9 1400.7,429.5 1402.5,429.1 1404.3,428.7 1406.1,428.3 1407.8,428.0 1409.7,427.6 1411.5,427.3 1413.3,426.9 1415.1,426.6 1416.9,426.3 1418.7,426.0 1420.5,425.7 1422.3,425.5 1424.1,425.2 1426.0,425.0 1427.8,424.8 1429.6,424.5 1431.4,424.4 1433.2,424.2 1435.1,424.0 1436.9,423.9 1438.7,423.7 1440.5,423.6 1442.3,423.5 1444.2,423.4 1446.0,423.3 1447.8,423.3 1449.6,423.2 1451.4,423.2 1453.3,423.2 1455.1,423.2 1456.9,423.2 1458.7,423.3 1460.5,423.3 1462.3,423.4 1464.1,423.5 1465.9,423.6 1467.8,423.7 1469.6,423.8 1471.4,424.0 1473.2,424.2 1475.0,424.3 1476.8,424.5 1478.6,424.7 1480.4,424.9 1482.2,425.2 1484.0,425.4 1485.7,425.7 1487.5,425.9 1489.3,426.2 1491.1,426.5 1492.9,426.8 1494.7,427.2 1496.5,427.5 1498.2,427.9 1500.0,428.2 1501.8,428.6 1503.6,429.0 1505.3,429.4 1507.1,429.8 1508.9,430.3 1510.6,430.7 1512.4,431.1 1514.2,431.6 1515.9,432.1 1517.7,432.6 1519.4,433.1 1521.2,433.6 1522.9,434.1 1524.7,434.6 1526.4,435.2 1528.2,435.7 1529.9,436.3 1531.6,436.9 1533.4,437.5 1535.1,438.1 1536.8,438.7 1538.5,439.4 1540.2,440.0 1541.9,440.7 1543.6,441.4 1545.3,442.1 1547.0,442.8 1548.6,443.5 1550.3,444.3 1552.0,445.0 1553.6,445.8 1555.3,446.6 1556.9,447.4 1558.5,448.2 1560.1,449.0 1561.7,449.9 1563.3,450.7 1564.9,451.6 1566.5,452.5 1568.1,453.4 1569.6,454.4 1571.2,455.3 1572.7,456.3 1574.2,457.3 1575.7,458.3 1577.2,459.3 1578.7,460.4 1580.2,461.4 1581.6,462.5 1583.1,463.6 1584.5,464.7 1585.9,465.9 1587.3,467.0 1588.7,468.2 1590.1,469.4 1591.5,470.6 1592.8,471.8 1594.2,473.0 1595.5,474.2 1596.8,475.5 1598.1,476.8 1599.4,478.1 1600.7,479.4 1602.0,480.7 1603.2,482.0 1604.5,483.3 1605.7,484.7 1606.9,486.0 1608.1,487.4 1609.3,488.7 1610.5,490.1 1611.7,491.5 1612.9,492.9 1614.0,494.3 1615.2,495.7 1616.3,497.2 1617.5,498.6 1618.6,500.0 1619.7,501.5 1620.8,502.9 1621.9,504.4 1622.9,505.8 1624.0,507.3 1625.0,508.8 1626.1,510.2 1627.1,511.7 1628.2,513.2 1629.2,514.6 1630.2,516.1 1631.2,517.6 1632.2,519.1 1633.1,520.6 1634.1,522.0 1635.1,523.5 1636.0,525.0 1637.0,526.5 1637.9,528.1 1638.8,529.6 1639.7,531.1 1640.6,532.6 1641.5,534.2 1642.4,535.7 1643.3,537.3 1644.1,538.8 1645.0,540.4 1645.9,542.0 1646.7,543.6 1647.5,545.2 1648.3,546.8 1649.2,548.4 1650.0,550.0 1650.8,551.6 1651.5,553.3 1652.3,555.0 1653.1,556.6 1653.8,558.3 1654.6,560.0"/>
<path d="M1250.5,585.5 1250.4,583.5 1250.4,581.4 1250.3,579.4 1250.4,577.4 1250.4,575.4 1250.5,573.3 1250.7,571.3 1250.9,569.3 1251.1,567.3 1251.3,565.3 1251.6,563.3 1251.9,561.3 1252.3,559.3 1252.7,557.3 1253.1,555.3 1253.5,553.3 1254.0,551.4 1254.5,549.4 1255.1,547.5 1255.7,545.5 1256.3,543.6 1256.9,541.6 1257.6,539.7 1258.3,537.8 1259.1,535.9 1259.8,534.0 1260.6,532.1 1261.4,530.2 1262.3,528.3 1263.2,526.5 1264.1,524.6 1265.0,522.8 1266.0,521.0 1266.9,519.2 1267.9,517.3 1269.0,515.6 1270.0,513.8 1271.1,512.0 1272.2,510.3 1273.3,508.5 1274.5,506.8 1275.6,505.1 1276.8,503.4 1278.0,501.7 1279.3,500.0 1280.5,498.4 1281.8,496.7 1283.1,495.1 1284.4,493.5 1285.7,491.9 1287.1,490.3 1288.4,488.8 1289.8,487.2 1291.2,485.7 1292.6,484.2 1294.0,482.7 1295.5,481.2 1297.0,479.8 1298.4,478.3 1299.9,476.9 1301.4,475.5 1302.9,474.2 1304.4,472.8 1306.0,471.5 1307.5,470.2 1309.1,468.9 1310.7,467.6 1312.3,466.4 1313.8,465.1 1315.4,463.9 1317.1,462.8 1318.7,461.6 1320.3,460.5 1321.9,459.3 1323.6,458.2 1325.2,457.2 1326.9,456.1 1328.6,455.0 1330.3,454.0 1332.0,453.0 1333.7,452.0 1335.4,451.0 1337.1,450.1 1338.8,449.1 1340.5,448.2 1342.3,447.2 1344.0,446.3 1345.8,445.4 1347.5,444.5 1349.3,443.6 1351.1,442.8 1352.9,441.9 1354.6,441.1 1356.4,440.2 1358.2,439.4 1360.1,438.5 1361.9,437.7 1363.7,436.9 1365.5,436.1 1367.4,435.3 1369.2,434.4 1371.0,433.6 1372.9,432.8 1374.8,432.0 1376.6,431.2 1378.5,430.4 1380.4,429.6 1382.2,428.8 1384.1,428.1 1386.0,427.3 1387.9,426.5 1389.8,425.7 1391.7,425.0 1393.6,424.2 1395.6,423.5 1397.5,422.7 1399.4,422.0 1401.3,421.3 1403.3,420.6 1405.2,419.9 1407.1,419.2 1409.1,418.5 1411.0,417.8 1413.0,417.2 1414.9,416.6 1416.9,415.9 1418.9,415.3 1420.8,414.8 1422.8,414.2 1424.8,413.6 1426.7,413.1 1428.7,412.6 1430.7,412.1 1432.7,411.6 1434.7,411.2 1436.7,410.8 1438.6,410.4 1440.6,410.0 1442.6,409.6 1444.6,409.3 1446.6,409.0 1448.6,408.7 1450.6,408.4 1452.6,408.2 1454.6,408.0 1456.6,407.8 1458.6,407.6 1460.6,407.4 1462.6,407.3 1464.7,407.2 1466.7,407.1 1468.7,407.0 1470.7,407.0 1472.7,407.0 1474.7,407.0 1476.7,407.0 1478.7,407.0 1480.7,407.1 1482.7,407.2 1484.7,407.3 1486.7,407.4 1488.8,407.6 1490.8,407.7 1492.8,407.9 1494.8,408.1 1496.8,408.4 1498.8,408.6 1500.8,408.9 1502.8,409.2 1504.8,409.5 1506.7,409.8 1508.7,410.1 1510.7,410.5 1512.7,410.9 1514.7,411.3 1516.7,411.7 1518.7,412.1 1520.6,412.5 1522.6,413.0 1524.6,413.5 1526.5,414.0 1528.5,414.5 1530.5,415.0 1532.4,415.5 1534.4,416.1 1536.4,416.6 1538.3,417.2 1540.3,417.8 1542.2,418.3 1544.2,418.9 1546.1,419.5 1548.1,420.1 1550.0,420.7 1551.9,421.4 1553.9,422.0 1555.8,422.6 1557.8,423.2 1559.7,423.9 1561.6,424.5 1563.5,425.2 1565.5,425.8 1567.4,426.5 1569.3,427.1 1571.2,427.8 1573.1,428.4 1575.1,429.1 1577.0,429.7 1578.9,430.4 1580.8,431.0 1582.7,431.6 1584.6,432.3 1586.5,432.9 1588.4,433.6 1590.3,434.2 1592.2,434.9 1594.0,435.5 1595.9,436.2 1597.8,436.9 1599.7,437.5 1601.5,438.2 1603.4,438.9 1605.2,439.6 1607.1,440.4 1608.9,441.1 1610.7,441.8 1612.5,442.6 1614.4,443.4 1616.2,444.1 1618.0,444.9 1619.8,445.8 1621.5,446.6 1623.3,447.5 1625.1,448.3 1626.8,449.2 1628.6,450.2 1630.3,451.1 1632.0,452.1 1633.7,453.1 1635.4,454.1 1637.1,455.2 1638.8,456.2 1640.4,457.3 1642.1,458.5 1643.7,459.6 1645.4,460.8 1647.0,462.1 1648.6,463.3 1650.2,464.6 1651.7,465.9 1653.3,467.2 1654.8,468.5 1656.4,469.9 1657.9,471.3 1659.4,472.7 1660.9,474.1 1662.4,475.5 1663.9,477.0 1665.3,478.5 1666.8,479.9 1668.2,481.5 1669.7,483.0 1671.1,484.5 1672.5,486.0 1673.9,487.6 1675.2,489.2 1676.6,490.7 1678.0,492.3 1679.3,493.9 1680.6,495.5 1681.9,497.1 1683.2,498.7 1684.5,500.3 1685.8,501.9 1687.1,503.6 1688.3,505.2 1689.6,506.8 1690.8,508.4 1692.0,510.0 1693.2,511.7 1694.4,513.3 1695.5,514.9 1696.6,516.6 1697.8,518.2 1698.8,519.9 1699.9,521.6 1700.9,523.3 1701.8,525.0 1702.8,526.8 1703.7,528.5 1704.5,530.3 1705.3,532.2 1706.0,534.0 1706.7,535.9 1707.4,537.8 1707.9,539.8 1708.4,541.8 1708.9,543.8 1709.3,545.9 1709.6,548.0"/>
<path d="M1244.2,585.1 1244.1,582.7 1244.0,580.3 1244.1,577.9 1244.2,575.5 1244.3,573.2 1244.6,570.8 1244.8,568.5 1245.2,566.2 1245.6,563.9 1246.0,561.6 1246.6,559.4 1247.1,557.1 1247.7,554.9 1248.4,552.7 1249.1,550.5 1249.8,548.3 1250.6,546.1 1251.5,544.0 1252.3,541.8 1253.2,539.7 1254.1,537.5 1255.1,535.4 1256.1,533.3 1257.1,531.2 1258.1,529.1 1259.2,527.0 1260.3,524.9 1261.4,522.8 1262.5,520.8 1263.6,518.7 1264.7,516.6 1265.9,514.6 1267.0,512.5 1268.2,510.5 1269.4,508.5 1270.6,506.4 1271.8,504.4 1273.0,502.4 1274.2,500.4 1275.5,498.4 1276.7,496.5 1278.0,494.5 1279.3,492.6 1280.6,490.7 1282.0,488.8 1283.3,486.9 1284.7,485.0 1286.1,483.2 1287.5,481.3 1289.0,479.5 1290.4,477.7 1291.9,476.0 1293.4,474.3 1295.0,472.5 1296.5,470.9 1298.1,469.2 1299.7,467.6 1301.3,466.0 1303.0,464.4 1304.7,462.9 1306.4,461.4 1308.1,459.9 1309.9,458.5 1311.7,457.0 1313.5,455.7 1315.4,454.3 1317.2,453.0 1319.1,451.7 1321.0,450.4 1322.9,449.1 1324.9,447.9 1326.8,446.7 1328.8,445.5 1330.8,444.3 1332.8,443.2 1334.8,442.0 1336.9,440.9 1338.9,439.8 1341.0,438.7 1343.1,437.7 1345.1,436.6 1347.2,435.5 1349.3,434.5 1351.4,433.5 1353.5,432.4 1355.6,431.4 1357.7,430.4 1359.8,429.4 1361.9,428.4 1364.0,427.4 1366.1,426.4 1368.2,425.4 1370.3,424.4 1372.4,423.5 1374.5,422.5 1376.6,421.5 1378.7,420.5 1380.8,419.5 1382.9,418.6 1385.0,417.6 1387.1,416.7 1389.2,415.7 1391.3,414.8 1393.4,413.9 1395.6,412.9 1397.7,412.0 1399.8,411.1 1401.9,410.3 1404.0,409.4 1406.2,408.5 1408.3,407.7 1410.4,406.8 1412.6,406.0 1414.7,405.2 1416.9,404.4 1419.0,403.6 1421.2,402.9 1423.4,402.1 1425.6,401.4 1427.8,400.7 1430.0,400.0 1432.2,399.3 1434.4,398.6 1436.6,398.0 1438.9,397.4 1441.1,396.8 1443.4,396.2 1445.6,395.6 1447.9,395.1 1450.2,394.6 1452.4,394.1 1454.7,393.6 1457.0,393.2 1459.3,392.7 1461.6,392.3 1463.9,391.9 1466.2,391.5 1468.5,391.2 1470.8,390.8 1473.1,390.5 1475.4,390.3 1477.8,390.0 1480.1,389.7 1482.4,389.5 1484.7,389.3 1487.0,389.1 1489.4,389.0 1491.7,388.9 1494.0,388.7 1496.3,388.7 1498.6,388.6 1501.0,388.6 1503.3,388.5 1505.6,388.6 1507.9,388.6 1510.2,388.6 1512.5,388.7 1514.8,388.8 1517.1,388.9 1519.4,389.1 1521.7,389.2 1524.0,389.4 1526.3,389.6 1528.6,389.8 1530.9,390.1 1533.2,390.3 1535.5,390.6 1537.7,390.9 1540.0,391.2 1542.3,391.6 1544.6,391.9 1546.8,392.3 1549.1,392.7 1551.4,393.1 1553.6,393.5 1555.9,394.0 1558.1,394.4 1560.4,394.9 1562.6,395.4 1564.9,395.9 1567.1,396.4 1569.4,397.0 1571.6,397.5 1573.8,398.1 1576.1,398.7 1578.3,399.3 1580.5,399.9 1582.7,400.5 1584.9,401.1 1587.1,401.8 1589.4,402.5 1591.6,403.1 1593.8,403.8 1596.0,404.5 1598.2,405.2 1600.4,405.9 1602.5,406.7 1604.7,407.4 1606.9,408.1 1609.1,408.9 1611.3,409.7 1613.5,410.4 1615.6,411.2 1617.8,412.0 1620.0,412.8 1622.1,413.6 1624.3,414.4 1626.5,415.3 1628.6,416.1 1630.8,416.9 1632.9,417.8 1635.1,418.6 1637.2,419.5 1639.4,420.3 1641.5,421.2 1643.7,422.1 1645.8,423.0 1647.9,423.8 1650.1,424.8 1652.2,425.7 1654.3,426.6 1656.4,427.6 1658.5,428.5 1660.6,429.5 1662.6,430.5 1664.7,431.5 1666.8,432.5 1668.8,433.6 1670.8,434.7 1672.8,435.8 1674.8,436.9 1676.8,438.0 1678.8,439.2 1680.7,440.4 1682.7,441.6 1684.6,442.9 1686.5,444.2 1688.4,445.5 1690.3,446.8 1692.1,448.2 1693.9,449.6 1695.7,451.0 1697.5,452.5 1699.3,454.0 1701.0,455.5 1702.8,457.1 1704.5,458.7 1706.1,460.4 1707.8,462.0 1709.5,463.7 1711.1,465.4 1712.7,467.1 1714.3,468.9 1715.8,470.6 1717.4,472.4 1718.9,474.2 1720.4,476.1 1721.9,477.9 1723.4,479.8 1724.8,481.6 1726.3,483.5 1727.7,485.4 1729.1,487.3 1730.5,489.2 1731.8,491.1 1733.2,493.0 1734.5,494.9 1735.8,496.9 1737.2,498.8 1738.4,500.7 1739.7,502.6 1741.0,504.5 1742.2,506.4 1743.4,508.3 1744.7,510.2 1745.9,512.1 1747.0,514.0 1748.2,515.9 1749.4,517.8 1750.5,519.8 1751.6,521.7 1752.7,523.6 1753.8,525.6 1754.8,527.5 1755.9,529.5 1756.9,531.5 1757.9,533.5 1758.8,535.5 1759.8,537.5 1760.7,539.6 1761.6,541.7 1762.5,543.8 1763.4,546.0 1764.2,548.1 1765.1,550.3 1765.9,552.6 1766.6,554.9 1767.4,557.2 1768.1,559.5"/>
<path d="M1233.1,589.6 1233.3,587.0 1233.5,584.5 1233.8,581.9 1234.2,579.4 1234.6,577.0 1235.1,574.6 1235.6,572.1 1236.2,569.8 1236.8,567.4 1237.4,565.1 1238.2,562.7 1238.9,560.4 1239.7,558.2 1240.5,555.9 1241.4,553.6 1242.3,551.4 1243.2,549.2 1244.1,546.9 1245.1,544.7 1246.1,542.5 1247.1,540.3 1248.1,538.1 1249.2,535.9 1250.2,533.7 1251.3,531.5 1252.3,529.3 1253.4,527.1 1254.4,524.8 1255.5,522.6 1256.5,520.4 1257.6,518.1 1258.7,515.9 1259.7,513.6 1260.8,511.4 1261.9,509.1 1262.9,506.8 1264.0,504.6 1265.1,502.3 1266.2,500.1 1267.3,497.8 1268.4,495.6 1269.6,493.4 1270.8,491.2 1271.9,489.0 1273.1,486.8 1274.3,484.6 1275.6,482.5 1276.9,480.4 1278.1,478.3 1279.5,476.2 1280.8,474.1 1282.2,472.1 1283.6,470.1 1285.0,468.2 1286.5,466.2 1288.0,464.3 1289.6,462.4 1291.2,460.6 1292.8,458.8 1294.5,457.0 1296.2,455.3 1297.9,453.6 1299.6,451.9 1301.4,450.3 1303.3,448.7 1305.1,447.1 1307.0,445.6 1308.9,444.1 1310.8,442.6 1312.8,441.1 1314.8,439.7 1316.8,438.2 1318.8,436.9 1320.9,435.5 1322.9,434.1 1325.0,432.8 1327.1,431.5 1329.2,430.3 1331.3,429.0 1333.5,427.8 1335.6,426.5 1337.8,425.3 1340.0,424.2 1342.2,423.0 1344.4,421.8 1346.6,420.7 1348.8,419.6 1351.0,418.5 1353.2,417.4 1355.4,416.3 1357.6,415.2 1359.9,414.2 1362.1,413.2 1364.3,412.1 1366.6,411.1 1368.9,410.1 1371.1,409.1 1373.4,408.2 1375.6,407.2 1377.9,406.3 1380.2,405.3 1382.5,404.4 1384.8,403.5 1387.1,402.6 1389.4,401.7 1391.7,400.9 1394.0,400.0 1396.3,399.2 1398.6,398.3 1400.9,397.5 1403.3,396.7 1405.6,395.9 1407.9,395.1 1410.2,394.3 1412.6,393.5 1414.9,392.7 1417.3,392.0 1419.6,391.2 1422.0,390.5 1424.3,389.8 1426.7,389.1 1429.1,388.4 1431.4,387.7 1433.8,387.1 1436.2,386.4 1438.6,385.8 1441.0,385.2 1443.4,384.6 1445.7,384.0 1448.1,383.5 1450.5,382.9 1452.9,382.4 1455.4,381.9 1457.8,381.4 1460.2,381.0 1462.6,380.5 1465.0,380.1 1467.5,379.7 1469.9,379.3 1472.3,379.0 1474.8,378.7 1477.2,378.4 1479.6,378.1 1482.1,377.9 1484.5,377.6 1487.0,377.4 1489.4,377.3 1491.9,377.1 1494.4,377.0 1496.8,376.9 1499.3,376.8 1501.8,376.7 1504.2,376.7 1506.7,376.7 1509.2,376.7 1511.6,376.7 1514.1,376.8 1516.6,376.9 1519.0,377.0 1521.5,377.1 1524.0,377.2 1526.4,377.4 1528.9,377.5 1531.4,377.7 1533.8,378.0 1536.3,378.2 1538.7,378.5 1541.2,378.7 1543.6,379.0 1546.1,379.3 1548.5,379.7 1550.9,380.0 1553.4,380.4 1555.8,380.8 1558.2,381.2 1560.7,381.6 1563.1,382.0 1565.5,382.5 1567.9,383.0 1570.3,383.4 1572.7,383.9 1575.1,384.5 1577.5,385.0 1579.9,385.5 1582.3,386.1 1584.7,386.7 1587.1,387.2 1589.5,387.8 1591.8,388.4 1594.2,389.1 1596.6,389.7 1599.0,390.4 1601.3,391.0 1603.7,391.7 1606.1,392.4 1608.4,393.1 1610.8,393.8 1613.1,394.5 1615.5,395.2 1617.8,395.9 1620.2,396.7 1622.5,397.4 1624.9,398.2 1627.2,399.0 1629.5,399.8 1631.9,400.6 1634.2,401.4 1636.5,402.2 1638.8,403.0 1641.1,403.9 1643.4,404.8 1645.7,405.7 1648.0,406.6 1650.3,407.5 1652.6,408.4 1654.8,409.4 1657.1,410.3 1659.4,411.3 1661.6,412.3 1663.8,413.4 1666.1,414.4 1668.3,415.5 1670.5,416.6 1672.7,417.7 1674.9,418.8 1677.0,420.0 1679.2,421.2 1681.3,422.4 1683.5,423.6 1685.6,424.8 1687.7,426.1 1689.8,427.4 1691.9,428.7 1694.0,430.1 1696.1,431.4 1698.1,432.8 1700.1,434.2 1702.2,435.7 1704.2,437.1 1706.2,438.6 1708.1,440.1 1710.1,441.6 1712.0,443.1 1713.9,444.7 1715.8,446.3 1717.7,447.9 1719.6,449.5 1721.4,451.1 1723.2,452.8 1725.0,454.5 1726.8,456.2 1728.6,457.9 1730.3,459.6 1732.0,461.4 1733.7,463.2 1735.4,465.0 1737.0,466.8 1738.7,468.6 1740.3,470.5 1741.9,472.3 1743.4,474.2 1745.0,476.1 1746.5,478.0 1748.0,480.0 1749.5,481.9 1750.9,483.9 1752.4,485.8 1753.8,487.8 1755.2,489.8 1756.6,491.8 1758.0,493.9 1759.4,495.9 1760.7,497.9 1762.1,500.0 1763.4,502.1 1764.7,504.1 1766.0,506.2 1767.3,508.3 1768.6,510.4 1769.9,512.5 1771.1,514.6 1772.4,516.7 1773.6,518.8 1774.8,521.0 1776.1,523.1 1777.3,525.2 1778.5,527.4 1779.7,529.5 1780.9,531.6 1782.1,533.8 1783.2,535.9 1784.4,538.1 1785.6,540.2 1786.8,542.3 1787.9,544.5 1789.1,546.6 1790.3,548.7 1791.4,550.9 1792.6,553.0"/>
<path d="M1240.3,586.4 1240.9,583.9 1241.4,581.4 1241.9,578.9 1242.5,576.4 1243.0,573.9 1243.5,571.4 1244.0,569.0 1244.6,566.5 1245.1,564.1 1245.6,561.6 1246.2,559.2 1246.7,556.8 1247.3,554.4 1247.8,552.0 1248.4,549.6 1249.0,547.2 1249.6,544.8 1250.2,542.4 1250.8,540.0 1251.5,537.6 1252.1,535.2 1252.8,532.9 1253.5,530.5 1254.2,528.1 1254.9,525.7 1255.7,523.4 1256.4,521.0 1257.2,518.6 1258.1,516.2 1258.9,513.9 1259.8,511.5 1260.7,509.1 1261.6,506.8 1262.6,504.4 1263.5,502.1 1264.6,499.7 1265.6,497.4 1266.7,495.1 1267.8,492.8 1268.9,490.5 1270.1,488.2 1271.2,486.0 1272.5,483.7 1273.7,481.5 1275.0,479.3 1276.3,477.1 1277.6,475.0 1279.0,472.9 1280.4,470.8 1281.9,468.7 1283.3,466.7 1284.8,464.7 1286.4,462.7 1288.0,460.8 1289.6,458.9 1291.2,457.1 1292.9,455.2 1294.6,453.5 1296.4,451.7 1298.2,450.0 1300.0,448.3 1301.8,446.7 1303.7,445.1 1305.6,443.5 1307.5,442.0 1309.5,440.4 1311.4,439.0 1313.4,437.5 1315.5,436.1 1317.5,434.6 1319.6,433.3 1321.6,431.9 1323.7,430.6 1325.9,429.2 1328.0,427.9 1330.1,426.7 1332.3,425.4 1334.5,424.2 1336.7,422.9 1338.9,421.7 1341.1,420.5 1343.3,419.4 1345.5,418.2 1347.7,417.0 1350.0,415.9 1352.2,414.7 1354.4,413.6 1356.7,412.5 1358.9,411.4 1361.2,410.3 1363.5,409.2 1365.7,408.1 1368.0,407.0 1370.3,406.0 1372.6,404.9 1374.8,403.9 1377.1,402.8 1379.4,401.8 1381.7,400.8 1384.0,399.7 1386.3,398.7 1388.6,397.7 1390.9,396.7 1393.2,395.7 1395.5,394.8 1397.8,393.8 1400.1,392.8 1402.4,391.8 1404.7,390.9 1407.0,389.9 1409.3,389.0 1411.7,388.0 1414.0,387.1 1416.3,386.1 1418.6,385.2 1420.9,384.3 1423.2,383.3 1425.6,382.4 1427.9,381.5 1430.2,380.7 1432.5,379.8 1434.9,378.9 1437.2,378.1 1439.6,377.2 1441.9,376.4 1444.3,375.6 1446.6,374.8 1449.0,374.1 1451.3,373.3 1453.7,372.6 1456.1,371.9 1458.5,371.2 1460.9,370.6 1463.3,369.9 1465.7,369.3 1468.1,368.7 1470.6,368.2 1473.0,367.7 1475.4,367.2 1477.9,366.7 1480.4,366.2 1482.8,365.8 1485.3,365.5 1487.8,365.1 1490.3,364.8 1492.8,364.5 1495.3,364.2 1497.8,364.0 1500.4,363.8 1502.9,363.6 1505.4,363.4 1507.9,363.3 1510.5,363.2 1513.0,363.1 1515.5,363.1 1518.1,363.1 1520.6,363.1 1523.2,363.1 1525.7,363.2 1528.2,363.3 1530.8,363.4 1533.3,363.5 1535.8,363.7 1538.3,363.9 1540.8,364.1 1543.4,364.4 1545.9,364.7 1548.4,365.0 1550.9,365.3 1553.3,365.6 1555.8,366.0 1558.3,366.4 1560.8,366.8 1563.2,367.3 1565.7,367.7 1568.2,368.2 1570.6,368.7 1573.1,369.2 1575.5,369.7 1578.0,370.2 1580.4,370.8 1582.9,371.3 1585.3,371.9 1587.8,372.4 1590.2,373.0 1592.6,373.6 1595.1,374.2 1597.5,374.8 1600.0,375.4 1602.4,376.0 1604.8,376.6 1607.3,377.2 1609.7,377.8 1612.2,378.4 1614.6,379.0 1617.0,379.5 1619.5,380.1 1621.9,380.7 1624.4,381.3 1626.8,381.9 1629.3,382.5 1631.7,383.0 1634.2,383.6 1636.6,384.2 1639.1,384.8 1641.5,385.4 1644.0,386.1 1646.4,386.7 1648.9,387.3 1651.3,388.0 1653.7,388.6 1656.1,389.3 1658.6,390.0 1661.0,390.7 1663.4,391.4 1665.8,392.1 1668.2,392.9 1670.6,393.7 1673.0,394.5 1675.3,395.3 1677.7,396.1 1680.0,397.0 1682.4,397.9 1684.7,398.8 1687.1,399.8 1689.4,400.7 1691.7,401.7 1694.0,402.8 1696.3,403.8 1698.5,404.9 1700.8,406.0 1703.1,407.1 1705.3,408.3 1707.5,409.4 1709.7,410.6 1711.9,411.9 1714.1,413.1 1716.3,414.4 1718.4,415.7 1720.6,417.0 1722.7,418.3 1724.8,419.7 1726.9,421.1 1729.0,422.5 1731.1,423.9 1733.1,425.4 1735.2,426.9 1737.2,428.4 1739.2,429.9 1741.1,431.4 1743.1,433.0 1745.1,434.6 1747.0,436.2 1748.9,437.8 1750.8,439.5 1752.6,441.2 1754.5,442.8 1756.3,444.5 1758.2,446.3 1760.0,448.0 1761.7,449.8 1763.5,451.6 1765.3,453.4 1767.0,455.2 1768.7,457.0 1770.4,458.9 1772.1,460.7 1773.8,462.6 1775.4,464.5 1777.1,466.4 1778.7,468.4 1780.3,470.3 1781.9,472.3 1783.4,474.3 1785.0,476.2 1786.5,478.2 1788.1,480.3 1789.6,482.3 1791.1,484.3 1792.6,486.4 1794.0,488.4 1795.5,490.5 1796.9,492.6 1798.3,494.7 1799.7,496.8 1801.0,498.9 1802.4,501.0 1803.7,503.1 1805.0,505.3 1806.2,507.4 1807.4,509.6 1808.6,511.7 1809.8,513.9 1810.9,516.1 1812.0,518.2 1813.1,520.4 1814.1,522.6 1815.1,524.8 1816.0,527.0"/>
</g>
<path d="M233.3,585.2L190.4,468.1" stroke="#000" stroke-width="2.0" fill="none"/><path d="M184.0,450.7L185.9,469.7L194.9,466.4Z" fill="#000"/>
<text x="152.6" y="449.9" font-family="'Liberation Serif', 'Times New Roman', serif" font-weight="bold" font-size="22.6" fill="#ff0000">32.25 Hz</text>
<path d="M395.6,474.2L229.3,403.2" stroke="#000" stroke-width="2.0" fill="none"/><path d="M212.3,395.9L227.4,407.6L231.2,398.8Z" fill="#000"/>
<text x="159.9" y="394.8" font-family="'Liberation Serif', 'Times New Roman', serif" font-weight="bold" font-size="22.6" fill="#ff0000">13.1 Hz</text>
<path d="M421.8,455.8L277.5,351.8" stroke="#000" stroke-width="2.0" fill="none"/><path d="M262.5,341.0L274.7,355.7L280.3,347.9Z" fill="#000"/>
<text x="191.4" y="342.5" font-family="'Liberation Serif', 'Times New Roman', serif" font-weight="bold" font-size="22.6" fill="#ff0000">12.44 Hz</text>
<path d="M449.3,428.3L361.2,308.8" stroke="#000" stroke-width="2.0" fill="none"/><path d="M350.2,293.9L357.3,311.6L365.0,305.9Z" fill="#000"/>
<text x="286.3" y="279.2" font-family="'Liberation Serif', 'Times New Roman', serif" font-weight="bold" font-size="22.6" fill="#ff0000">12.1 Hz</text>
<path d="M469.7,378.6L436.5,268.7" stroke="#000" stroke-width="2.0" fill="none"/><path d="M431.1,251.0L431.9,270.1L441.1,267.3Z" fill="#000"/>
<text x="372.3" y="241.5" font-family="'Liberation Serif', 'Times New Roman', serif" font-weight="bold" font-size="22.6" fill="#ff0000">11.33 Hz</text>
<path d="M506.8,344.7L489.5,286.9" stroke="#000" stroke-width="2.0" fill="none"/><path d="M484.2,269.2L484.9,288.3L494.1,285.5Z" fill="#000"/>
<text x="470.9" y="261.4" font-family="'Liberation Serif', 'Times New Roman', serif" font-weight="bold" font-size="22.6" fill="#ff0000">10.56 Hz</text>
<path d="M524.7,313.4L558.7,283.5" stroke="#000" stroke-width="2.0" fill="none"/><path d="M572.6,271.3L555.5,279.9L561.9,287.1Z" fill="#000"/>
<text x="581.0" y="276.0" font-family="'Liberation Serif', 'Times New Roman', serif" font-weight="bold" font-size="22.6" fill="#ff0000">10.21 Hz</text>
<path d="M1455.3,437.7L1329.8,391.8" stroke="#000" stroke-width="2.0" fill="none"/><path d="M1312.4,385.5L1328.1,396.4L1331.4,387.3Z" fill="#000"/>
<text x="1253.3" y="380.0" font-family="'Liberation Serif', 'Times New Roman', serif" font-weight="bold" font-size="27" fill="#000">12.56 Hz</text>
<path d="M1457.0,416.4L1415.5,334.3" stroke="#000" stroke-width="2.0" fill="none"/><path d="M1407.1,317.8L1411.2,336.5L1419.7,332.1Z" fill="#000"/>
<text x="1347.2" y="314.2" font-family="'Liberation Serif', 'Times New Roman', serif" font-weight="bold" font-size="27" fill="#000">12.21 Hz</text>
<path d="M1487.7,401.0L1482.4,308.0" stroke="#000" stroke-width="2.0" fill="none"/><path d="M1481.3,289.5L1477.6,308.2L1487.2,307.7Z" fill="#000"/>
<text x="1419.1" y="281.2" font-family="'Liberation Serif', 'Times New Roman', serif" font-weight="bold" font-size="27" fill="#000">11.82 Hz</text>
<path d="M1547.3,380.2L1544.3,273.8" stroke="#000" stroke-width="2.0" fill="none"/><path d="M1543.8,255.3L1539.5,273.9L1549.1,273.7Z" fill="#000"/>
<text x="1512.1" y="254.2" font-family="'Liberation Serif', 'Times New Roman', serif" font-weight="bold" font-size="27" fill="#000">11.56 Hz</text>
<path d="M1552.0,382.5L1594.9,316.8" stroke="#000" stroke-width="2.0" fill="none"/><path d="M1605.0,301.3L1590.9,314.2L1598.9,319.4Z" fill="#000"/>
<text x="1609.9" y="277.7" font-family="'Liberation Serif', 'Times New Roman', serif" font-weight="bold" font-size="27" fill="#000">11.5 Hz</text>
<path d="M1579.1,368.0L1638.0,328.2" stroke="#000" stroke-width="2.0" fill="none"/><path d="M1653.3,317.8L1635.3,324.2L1640.7,332.1Z" fill="#000"/>
<text x="1646.4" y="313.0" font-family="'Liberation Serif', 'Times New Roman', serif" font-weight="bold" font-size="27" fill="#000">11.42 Hz</text>
<path d="M1310.3,547.8L1238.8,483.8" stroke="#000" stroke-width="2.0" fill="none"/><path d="M1225.0,471.5L1235.6,487.4L1242.0,480.3Z" fill="#000"/>
<text x="1170.0" y="466.6" font-family="'Liberation Serif', 'Times New Roman', serif" font-weight="bold" font-size="27" fill="#000">32.3 Hz</text>
<rect x="695.9" y="20.1" width="232.9" height="286.2" fill="#fff" stroke="#000" stroke-width="2"/>
<rect x="722.1" y="33.1" width="8.7" height="8.7" fill="#000000"/>
<text x="761.0" y="45.9" font-family="'Liberation Serif', 'Times New Roman', serif" font-weight="bold" font-size="24.5">Blank</text>
<circle cx="726.5" cy="74.0" r="5.0" fill="#ff0000"/>
<text x="761.0" y="82.4" font-family="'Liberation Serif', 'Times New Roman', serif" font-weight="bold" font-size="24.5" xml:space="preserve">5×10<tspan font-size="17" dy="-10.5">-6</tspan><tspan dy="10.5"> M</tspan></text>
<path d="M726.5,105.4L732.3,115.6L720.7,115.6Z" fill="#0000ff"/>
<text x="761.0" y="118.9" font-family="'Liberation Serif', 'Times New Roman', serif" font-weight="bold" font-size="24.5" xml:space="preserve">10×10<tspan font-size="17" dy="-10.5">-6</tspan><tspan dy="10.5"> M</tspan></text>
<path d="M726.5,152.1L732.3,141.9L720.7,141.9Z" fill="#ff00ff"/>
<text x="761.0" y="155.4" font-family="'Liberation Serif', 'Times New Roman', serif" font-weight="bold" font-size="24.5" xml:space="preserve">15×10<tspan font-size="17" dy="-10.5">-6</tspan><tspan dy="10.5"> M</tspan></text>
<path d="M726.5,177.4L732.6,183.5L726.5,189.6L720.4,183.5Z" fill="#008000"/>
<text x="761.0" y="191.9" font-family="'Liberation Serif', 'Times New Roman', serif" font-weight="bold" font-size="24.5" xml:space="preserve">20×10<tspan font-size="17" dy="-10.5">-6</tspan><tspan dy="10.5"> M</tspan></text>
<path d="M719.9,220.0L730.1,214.2L730.1,225.8Z" fill="#000080"/>
<text x="760.4" y="228.4" font-family="'Liberation Serif', 'Times New Roman', serif" font-weight="bold" font-size="24.5" xml:space="preserve">25×10<tspan font-size="17" dy="-10.5">-6</tspan><tspan dy="10.5"> M</tspan></text>
<path d="M733.1,256.5L722.9,250.7L722.9,262.3Z" fill="#8000ff"/>
<text x="761.0" y="264.9" font-family="'Liberation Serif', 'Times New Roman', serif" font-weight="bold" font-size="24.5" xml:space="preserve">30×10<tspan font-size="17" dy="-10.5">-6</tspan><tspan dy="10.5"> M</tspan></text>
<path d="M699.4,289H754" stroke="#000" stroke-width="2"/>
<text x="761.0" y="297.3" font-family="'Liberation Sans', Arial, sans-serif" font-weight="bold" font-size="24.3">Fitting Curves</text>
<rect x="1741.5" y="21.0" width="223.3" height="270.5" fill="#fff" stroke="#000" stroke-width="2"/>
<rect x="1777.0" y="40.3" width="8.7" height="8.7" fill="#000000"/>
<text x="1815.2" y="52.5" font-family="'Liberation Serif', 'Times New Roman', serif" font-weight="bold" font-size="23.2">Blank</text>
<circle cx="1781.4" cy="78.7" r="5.0" fill="#ff0000"/>
<text x="1815.2" y="86.5" font-family="'Liberation Serif', 'Times New Roman', serif" font-weight="bold" font-size="23.2" xml:space="preserve">5×10<tspan font-size="16" dy="-10.0">-6</tspan><tspan dy="10.0"> M</tspan></text>
<path d="M1781.4,107.6L1787.2,117.8L1775.6,117.8Z" fill="#0000ff"/>
<text x="1815.2" y="120.5" font-family="'Liberation Serif', 'Times New Roman', serif" font-weight="bold" font-size="23.2" xml:space="preserve">10×10<tspan font-size="16" dy="-10.0">-6</tspan><tspan dy="10.0"> M</tspan></text>
<path d="M1781.4,151.8L1787.2,141.6L1775.6,141.6Z" fill="#ff00ff"/>
<text x="1815.2" y="154.5" font-family="'Liberation Serif', 'Times New Roman', serif" font-weight="bold" font-size="23.2" xml:space="preserve">15×10<tspan font-size="16" dy="-10.0">-6</tspan><tspan dy="10.0"> M</tspan></text>
<path d="M1781.4,174.6L1787.5,180.7L1781.4,186.8L1775.3,180.7Z" fill="#008000"/>
<text x="1815.2" y="188.5" font-family="'Liberation Serif', 'Times New Roman', serif" font-weight="bold" font-size="23.2" xml:space="preserve">20×10<tspan font-size="16" dy="-10.0">-6</tspan><tspan dy="10.0"> M</tspan></text>
<path d="M1774.9,214.7L1785.1,208.9L1785.1,220.5Z" fill="#000080"/>
<text x="1808.3" y="222.5" font-family="'Liberation Serif', 'Times New Roman', serif" font-weight="bold" font-size="23.2" xml:space="preserve">25×10<tspan font-size="16" dy="-10.0">-6</tspan><tspan dy="10.0"> M</tspan></text>
<path d="M1788.1,248.7L1777.9,242.9L1777.9,254.5Z" fill="#8000ff"/>
<text x="1815.2" y="256.5" font-family="'Liberation Serif', 'Times New Roman', serif" font-weight="bold" font-size="23.2" xml:space="preserve">30×10<tspan font-size="16" dy="-10.0">-6</tspan><tspan dy="10.0"> M</tspan></text>
<path d="M1755.2,277.8H1807.7" stroke="#000" stroke-width="2"/>
<text x="1815.2" y="286.1" font-family="'Liberation Serif', 'Times New Roman', serif" font-weight="bold" font-size="23.2">Futing Curves</text>
</svg>
</body></html>
